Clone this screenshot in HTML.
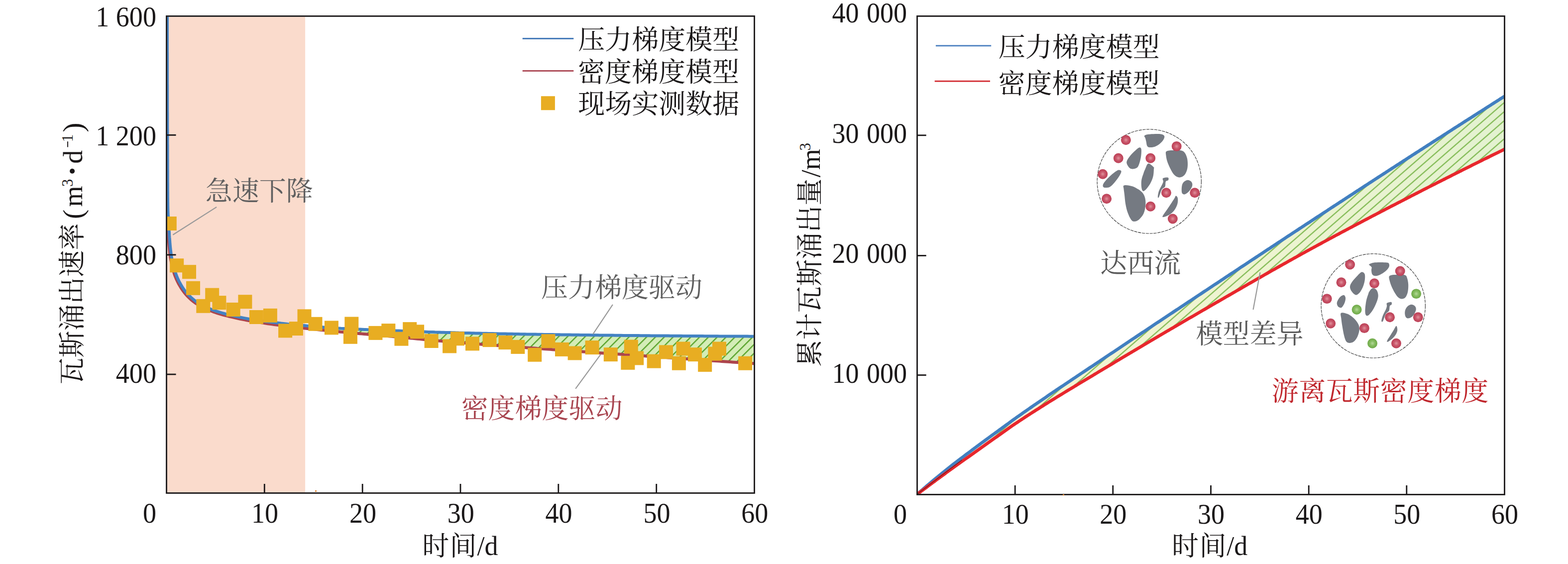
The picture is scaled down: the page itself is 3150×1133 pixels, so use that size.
<!DOCTYPE html><html><head><meta charset="utf-8"><title>chart</title><style>html,body{margin:0;padding:0;background:#fff;}svg{display:block;}</style></head><body><svg width="3150" height="1133" viewBox="0 0 3150 1133"><defs><pattern id="hatchL" patternUnits="userSpaceOnUse" width="40" height="12.551" patternTransform="rotate(-45)"><line x1="-1" y1="4.15" x2="41" y2="4.15" stroke="#59a32c" stroke-width="2.3"/></pattern><clipPath id="clipR"><rect x="1844" y="34" width="1177" height="958"/></clipPath><clipPath id="clipL"><rect x="336" y="34" width="1178" height="955"/></clipPath><pattern id="hatchR" patternUnits="userSpaceOnUse" width="40" height="13.74" patternTransform="rotate(-41)"><line x1="-1" y1="8.37" x2="41" y2="8.37" stroke="#6fb03e" stroke-width="2.0"/></pattern><linearGradient id="gradR" gradientUnits="userSpaceOnUse" x1="2000" y1="0" x2="3022" y2="0"><stop offset="0" stop-color="#f4f3d2"/><stop offset="0.5" stop-color="#eef4d0"/><stop offset="1" stop-color="#e3f2d0"/></linearGradient><radialGradient id="ballR" cx="0.5" cy="0.5" r="0.5"><stop offset="0" stop-color="#e0939d"/><stop offset="0.5" stop-color="#c9566a"/><stop offset="1" stop-color="#bb3f55"/></radialGradient><radialGradient id="ballG" cx="0.5" cy="0.5" r="0.5"><stop offset="0" stop-color="#b5d99a"/><stop offset="0.5" stop-color="#86bd60"/><stop offset="1" stop-color="#6ea848"/></radialGradient><filter id="soft" x="-5%" y="-5%" width="110%" height="110%"><feGaussianBlur stdDeviation="2.2"/></filter></defs><rect width="3150" height="1133" fill="#fff"/><rect x="336" y="34" width="277.1" height="955" fill="#fadbcc"/>
<g clip-path="url(#clipL)">
<path d="M640.0,656.6 L644.4,656.9 L648.8,657.3 L653.2,657.6 L657.6,657.9 L662.0,658.3 L666.4,658.6 L670.8,658.8 L675.2,659.1 L679.6,659.4 L683.9,659.6 L688.3,659.9 L692.7,660.1 L697.1,660.3 L701.5,660.5 L705.9,660.7 L710.3,660.9 L714.7,661.1 L719.1,661.3 L723.5,661.5 L727.9,661.7 L732.3,661.9 L736.7,662.1 L741.1,662.3 L745.5,662.4 L749.9,662.6 L754.3,662.8 L758.7,662.9 L763.0,663.1 L767.4,663.3 L771.8,663.4 L776.2,663.6 L780.6,663.8 L785.0,663.9 L789.4,664.1 L793.8,664.3 L798.2,664.4 L802.6,664.6 L807.0,664.8 L811.4,664.9 L815.8,665.1 L820.2,665.3 L824.6,665.5 L829.0,665.6 L833.4,665.8 L837.8,666.0 L842.1,666.2 L846.5,666.3 L850.9,666.5 L855.3,666.6 L859.7,666.8 L864.1,667.0 L868.5,667.1 L872.9,667.2 L877.3,667.4 L881.7,667.5 L886.1,667.6 L890.5,667.8 L894.9,667.9 L899.3,668.0 L903.7,668.1 L908.1,668.2 L912.5,668.3 L916.9,668.4 L921.2,668.6 L925.6,668.7 L930.0,668.8 L934.4,668.9 L938.8,669.0 L943.2,669.1 L947.6,669.2 L952.0,669.3 L956.4,669.4 L960.8,669.5 L965.2,669.6 L969.6,669.7 L974.0,669.8 L978.4,669.9 L982.8,670.0 L987.2,670.0 L991.6,670.1 L996.0,670.2 L1000.3,670.3 L1004.7,670.4 L1009.1,670.5 L1013.5,670.6 L1017.9,670.7 L1022.3,670.7 L1026.7,670.8 L1031.1,670.9 L1035.5,671.0 L1039.9,671.0 L1044.3,671.1 L1048.7,671.2 L1053.1,671.3 L1057.5,671.3 L1061.9,671.4 L1066.3,671.5 L1070.7,671.6 L1075.1,671.6 L1079.4,671.7 L1083.8,671.8 L1088.2,671.8 L1092.6,671.9 L1097.0,672.0 L1101.4,672.0 L1105.8,672.1 L1110.2,672.1 L1114.6,672.2 L1119.0,672.3 L1123.4,672.3 L1127.8,672.4 L1132.2,672.5 L1136.6,672.5 L1141.0,672.6 L1145.4,672.6 L1149.8,672.7 L1154.2,672.7 L1158.5,672.8 L1162.9,672.9 L1167.3,672.9 L1171.7,673.0 L1176.1,673.0 L1180.5,673.1 L1184.9,673.1 L1189.3,673.2 L1193.7,673.2 L1198.1,673.3 L1202.5,673.3 L1206.9,673.4 L1211.3,673.4 L1215.7,673.5 L1220.1,673.5 L1224.5,673.6 L1228.9,673.6 L1233.3,673.7 L1237.6,673.7 L1242.0,673.8 L1246.4,673.8 L1250.8,673.8 L1255.2,673.9 L1259.6,673.9 L1264.0,674.0 L1268.4,674.0 L1272.8,674.1 L1277.2,674.1 L1281.6,674.1 L1286.0,674.2 L1290.4,674.2 L1294.8,674.3 L1299.2,674.3 L1303.6,674.3 L1308.0,674.4 L1312.4,674.4 L1316.7,674.4 L1321.1,674.5 L1325.5,674.5 L1329.9,674.5 L1334.3,674.6 L1338.7,674.6 L1343.1,674.7 L1347.5,674.7 L1351.9,674.7 L1356.3,674.8 L1360.7,674.8 L1365.1,674.8 L1369.5,674.9 L1373.9,674.9 L1378.3,674.9 L1382.7,674.9 L1387.1,675.0 L1391.5,675.0 L1395.8,675.0 L1400.2,675.1 L1404.6,675.1 L1409.0,675.1 L1413.4,675.2 L1417.8,675.2 L1422.2,675.2 L1426.6,675.2 L1431.0,675.3 L1435.4,675.3 L1439.8,675.3 L1444.2,675.4 L1448.6,675.4 L1453.0,675.4 L1457.4,675.4 L1461.8,675.5 L1466.2,675.5 L1470.6,675.5 L1474.9,675.5 L1479.3,675.5 L1483.7,675.6 L1488.1,675.6 L1492.5,675.6 L1496.9,675.6 L1501.3,675.6 L1505.7,675.7 L1510.1,675.7 L1514.5,675.7 L1514.5,730.4 L1510.1,730.1 L1505.7,729.8 L1501.3,729.5 L1496.9,729.2 L1492.5,728.9 L1488.1,728.6 L1483.7,728.3 L1479.3,728.0 L1474.9,727.7 L1470.6,727.4 L1466.2,727.1 L1461.8,726.8 L1457.4,726.5 L1453.0,726.1 L1448.6,725.8 L1444.2,725.5 L1439.8,725.2 L1435.4,724.9 L1431.0,724.6 L1426.6,724.3 L1422.2,724.0 L1417.8,723.7 L1413.4,723.4 L1409.0,723.1 L1404.6,722.8 L1400.2,722.5 L1395.8,722.2 L1391.5,721.9 L1387.1,721.6 L1382.7,721.3 L1378.3,721.0 L1373.9,720.7 L1369.5,720.3 L1365.1,720.0 L1360.7,719.7 L1356.3,719.4 L1351.9,719.1 L1347.5,718.8 L1343.1,718.5 L1338.7,718.2 L1334.3,717.9 L1329.9,717.6 L1325.5,717.3 L1321.1,717.0 L1316.7,716.7 L1312.4,716.4 L1308.0,716.1 L1303.6,715.7 L1299.2,715.4 L1294.8,715.1 L1290.4,714.8 L1286.0,714.5 L1281.6,714.2 L1277.2,713.9 L1272.8,713.6 L1268.4,713.3 L1264.0,713.0 L1259.6,712.7 L1255.2,712.4 L1250.8,712.1 L1246.4,711.8 L1242.0,711.5 L1237.6,711.2 L1233.3,710.9 L1228.9,710.6 L1224.5,710.2 L1220.1,709.9 L1215.7,709.6 L1211.3,709.3 L1206.9,709.0 L1202.5,708.7 L1198.1,708.4 L1193.7,708.1 L1189.3,707.8 L1184.9,707.5 L1180.5,707.2 L1176.1,706.9 L1171.7,706.6 L1167.3,706.3 L1162.9,706.0 L1158.5,705.6 L1154.2,705.3 L1149.8,705.0 L1145.4,704.7 L1141.0,704.4 L1136.6,704.1 L1132.2,703.8 L1127.8,703.5 L1123.4,703.1 L1119.0,702.8 L1114.6,702.5 L1110.2,702.2 L1105.8,701.9 L1101.4,701.6 L1097.0,701.2 L1092.6,700.9 L1088.2,700.6 L1083.8,700.3 L1079.4,700.0 L1075.1,699.6 L1070.7,699.3 L1066.3,699.0 L1061.9,698.7 L1057.5,698.3 L1053.1,698.0 L1048.7,697.7 L1044.3,697.4 L1039.9,697.1 L1035.5,696.7 L1031.1,696.4 L1026.7,696.1 L1022.3,695.8 L1017.9,695.4 L1013.5,695.1 L1009.1,694.8 L1004.7,694.5 L1000.3,694.1 L996.0,693.8 L991.6,693.5 L987.2,693.1 L982.8,692.8 L978.4,692.5 L974.0,692.2 L969.6,691.8 L965.2,691.5 L960.8,691.1 L956.4,690.8 L952.0,690.5 L947.6,690.1 L943.2,689.8 L938.8,689.4 L934.4,689.1 L930.0,688.7 L925.6,688.4 L921.2,688.0 L916.9,687.7 L912.5,687.3 L908.1,686.9 L903.7,686.6 L899.3,686.2 L894.9,685.8 L890.5,685.5 L886.1,685.1 L881.7,684.7 L877.3,684.3 L872.9,683.9 L868.5,683.5 L864.1,683.1 L859.7,682.7 L855.3,682.3 L850.9,681.9 L846.5,681.5 L842.1,681.0 L837.8,680.6 L833.4,680.2 L829.0,679.7 L824.6,679.3 L820.2,678.9 L815.8,678.5 L811.4,678.1 L807.0,677.6 L802.6,677.2 L798.2,676.8 L793.8,676.4 L789.4,676.0 L785.0,675.6 L780.6,675.3 L776.2,674.9 L771.8,674.5 L767.4,674.1 L763.0,673.7 L758.7,673.3 L754.3,673.0 L749.9,672.6 L745.5,672.2 L741.1,671.8 L736.7,671.4 L732.3,671.0 L727.9,670.7 L723.5,670.3 L719.1,669.9 L714.7,669.5 L710.3,669.1 L705.9,668.7 L701.5,668.3 L697.1,667.9 L692.7,667.5 L688.3,667.1 L683.9,666.7 L679.6,666.3 L675.2,665.8 L670.8,665.4 L666.4,665.0 L662.0,664.5 L657.6,664.1 L653.2,663.7 L648.8,663.2 L644.4,662.8 L640.0,662.3Z" fill="#d4edb7"/>
<path d="M640.0,656.6 L644.4,656.9 L648.8,657.3 L653.2,657.6 L657.6,657.9 L662.0,658.3 L666.4,658.6 L670.8,658.8 L675.2,659.1 L679.6,659.4 L683.9,659.6 L688.3,659.9 L692.7,660.1 L697.1,660.3 L701.5,660.5 L705.9,660.7 L710.3,660.9 L714.7,661.1 L719.1,661.3 L723.5,661.5 L727.9,661.7 L732.3,661.9 L736.7,662.1 L741.1,662.3 L745.5,662.4 L749.9,662.6 L754.3,662.8 L758.7,662.9 L763.0,663.1 L767.4,663.3 L771.8,663.4 L776.2,663.6 L780.6,663.8 L785.0,663.9 L789.4,664.1 L793.8,664.3 L798.2,664.4 L802.6,664.6 L807.0,664.8 L811.4,664.9 L815.8,665.1 L820.2,665.3 L824.6,665.5 L829.0,665.6 L833.4,665.8 L837.8,666.0 L842.1,666.2 L846.5,666.3 L850.9,666.5 L855.3,666.6 L859.7,666.8 L864.1,667.0 L868.5,667.1 L872.9,667.2 L877.3,667.4 L881.7,667.5 L886.1,667.6 L890.5,667.8 L894.9,667.9 L899.3,668.0 L903.7,668.1 L908.1,668.2 L912.5,668.3 L916.9,668.4 L921.2,668.6 L925.6,668.7 L930.0,668.8 L934.4,668.9 L938.8,669.0 L943.2,669.1 L947.6,669.2 L952.0,669.3 L956.4,669.4 L960.8,669.5 L965.2,669.6 L969.6,669.7 L974.0,669.8 L978.4,669.9 L982.8,670.0 L987.2,670.0 L991.6,670.1 L996.0,670.2 L1000.3,670.3 L1004.7,670.4 L1009.1,670.5 L1013.5,670.6 L1017.9,670.7 L1022.3,670.7 L1026.7,670.8 L1031.1,670.9 L1035.5,671.0 L1039.9,671.0 L1044.3,671.1 L1048.7,671.2 L1053.1,671.3 L1057.5,671.3 L1061.9,671.4 L1066.3,671.5 L1070.7,671.6 L1075.1,671.6 L1079.4,671.7 L1083.8,671.8 L1088.2,671.8 L1092.6,671.9 L1097.0,672.0 L1101.4,672.0 L1105.8,672.1 L1110.2,672.1 L1114.6,672.2 L1119.0,672.3 L1123.4,672.3 L1127.8,672.4 L1132.2,672.5 L1136.6,672.5 L1141.0,672.6 L1145.4,672.6 L1149.8,672.7 L1154.2,672.7 L1158.5,672.8 L1162.9,672.9 L1167.3,672.9 L1171.7,673.0 L1176.1,673.0 L1180.5,673.1 L1184.9,673.1 L1189.3,673.2 L1193.7,673.2 L1198.1,673.3 L1202.5,673.3 L1206.9,673.4 L1211.3,673.4 L1215.7,673.5 L1220.1,673.5 L1224.5,673.6 L1228.9,673.6 L1233.3,673.7 L1237.6,673.7 L1242.0,673.8 L1246.4,673.8 L1250.8,673.8 L1255.2,673.9 L1259.6,673.9 L1264.0,674.0 L1268.4,674.0 L1272.8,674.1 L1277.2,674.1 L1281.6,674.1 L1286.0,674.2 L1290.4,674.2 L1294.8,674.3 L1299.2,674.3 L1303.6,674.3 L1308.0,674.4 L1312.4,674.4 L1316.7,674.4 L1321.1,674.5 L1325.5,674.5 L1329.9,674.5 L1334.3,674.6 L1338.7,674.6 L1343.1,674.7 L1347.5,674.7 L1351.9,674.7 L1356.3,674.8 L1360.7,674.8 L1365.1,674.8 L1369.5,674.9 L1373.9,674.9 L1378.3,674.9 L1382.7,674.9 L1387.1,675.0 L1391.5,675.0 L1395.8,675.0 L1400.2,675.1 L1404.6,675.1 L1409.0,675.1 L1413.4,675.2 L1417.8,675.2 L1422.2,675.2 L1426.6,675.2 L1431.0,675.3 L1435.4,675.3 L1439.8,675.3 L1444.2,675.4 L1448.6,675.4 L1453.0,675.4 L1457.4,675.4 L1461.8,675.5 L1466.2,675.5 L1470.6,675.5 L1474.9,675.5 L1479.3,675.5 L1483.7,675.6 L1488.1,675.6 L1492.5,675.6 L1496.9,675.6 L1501.3,675.6 L1505.7,675.7 L1510.1,675.7 L1514.5,675.7 L1514.5,730.4 L1510.1,730.1 L1505.7,729.8 L1501.3,729.5 L1496.9,729.2 L1492.5,728.9 L1488.1,728.6 L1483.7,728.3 L1479.3,728.0 L1474.9,727.7 L1470.6,727.4 L1466.2,727.1 L1461.8,726.8 L1457.4,726.5 L1453.0,726.1 L1448.6,725.8 L1444.2,725.5 L1439.8,725.2 L1435.4,724.9 L1431.0,724.6 L1426.6,724.3 L1422.2,724.0 L1417.8,723.7 L1413.4,723.4 L1409.0,723.1 L1404.6,722.8 L1400.2,722.5 L1395.8,722.2 L1391.5,721.9 L1387.1,721.6 L1382.7,721.3 L1378.3,721.0 L1373.9,720.7 L1369.5,720.3 L1365.1,720.0 L1360.7,719.7 L1356.3,719.4 L1351.9,719.1 L1347.5,718.8 L1343.1,718.5 L1338.7,718.2 L1334.3,717.9 L1329.9,717.6 L1325.5,717.3 L1321.1,717.0 L1316.7,716.7 L1312.4,716.4 L1308.0,716.1 L1303.6,715.7 L1299.2,715.4 L1294.8,715.1 L1290.4,714.8 L1286.0,714.5 L1281.6,714.2 L1277.2,713.9 L1272.8,713.6 L1268.4,713.3 L1264.0,713.0 L1259.6,712.7 L1255.2,712.4 L1250.8,712.1 L1246.4,711.8 L1242.0,711.5 L1237.6,711.2 L1233.3,710.9 L1228.9,710.6 L1224.5,710.2 L1220.1,709.9 L1215.7,709.6 L1211.3,709.3 L1206.9,709.0 L1202.5,708.7 L1198.1,708.4 L1193.7,708.1 L1189.3,707.8 L1184.9,707.5 L1180.5,707.2 L1176.1,706.9 L1171.7,706.6 L1167.3,706.3 L1162.9,706.0 L1158.5,705.6 L1154.2,705.3 L1149.8,705.0 L1145.4,704.7 L1141.0,704.4 L1136.6,704.1 L1132.2,703.8 L1127.8,703.5 L1123.4,703.1 L1119.0,702.8 L1114.6,702.5 L1110.2,702.2 L1105.8,701.9 L1101.4,701.6 L1097.0,701.2 L1092.6,700.9 L1088.2,700.6 L1083.8,700.3 L1079.4,700.0 L1075.1,699.6 L1070.7,699.3 L1066.3,699.0 L1061.9,698.7 L1057.5,698.3 L1053.1,698.0 L1048.7,697.7 L1044.3,697.4 L1039.9,697.1 L1035.5,696.7 L1031.1,696.4 L1026.7,696.1 L1022.3,695.8 L1017.9,695.4 L1013.5,695.1 L1009.1,694.8 L1004.7,694.5 L1000.3,694.1 L996.0,693.8 L991.6,693.5 L987.2,693.1 L982.8,692.8 L978.4,692.5 L974.0,692.2 L969.6,691.8 L965.2,691.5 L960.8,691.1 L956.4,690.8 L952.0,690.5 L947.6,690.1 L943.2,689.8 L938.8,689.4 L934.4,689.1 L930.0,688.7 L925.6,688.4 L921.2,688.0 L916.9,687.7 L912.5,687.3 L908.1,686.9 L903.7,686.6 L899.3,686.2 L894.9,685.8 L890.5,685.5 L886.1,685.1 L881.7,684.7 L877.3,684.3 L872.9,683.9 L868.5,683.5 L864.1,683.1 L859.7,682.7 L855.3,682.3 L850.9,681.9 L846.5,681.5 L842.1,681.0 L837.8,680.6 L833.4,680.2 L829.0,679.7 L824.6,679.3 L820.2,678.9 L815.8,678.5 L811.4,678.1 L807.0,677.6 L802.6,677.2 L798.2,676.8 L793.8,676.4 L789.4,676.0 L785.0,675.6 L780.6,675.3 L776.2,674.9 L771.8,674.5 L767.4,674.1 L763.0,673.7 L758.7,673.3 L754.3,673.0 L749.9,672.6 L745.5,672.2 L741.1,671.8 L736.7,671.4 L732.3,671.0 L727.9,670.7 L723.5,670.3 L719.1,669.9 L714.7,669.5 L710.3,669.1 L705.9,668.7 L701.5,668.3 L697.1,667.9 L692.7,667.5 L688.3,667.1 L683.9,666.7 L679.6,666.3 L675.2,665.8 L670.8,665.4 L666.4,665.0 L662.0,664.5 L657.6,664.1 L653.2,663.7 L648.8,663.2 L644.4,662.8 L640.0,662.3Z" fill="url(#hatchL)"/>
<path d="M334.5,34.0 L334.5,38.3 L334.5,42.6 L334.5,47.0 L334.5,51.3 L334.5,55.6 L334.5,59.9 L334.5,64.2 L334.5,68.5 L334.5,72.9 L334.5,77.2 L334.5,81.5 L334.5,85.8 L334.5,90.1 L334.5,94.4 L334.5,98.8 L334.5,103.1 L334.5,107.4 L334.5,111.7 L334.5,116.0 L334.5,120.4 L334.5,124.7 L334.5,129.0 L334.5,133.3 L334.5,137.6 L334.5,141.9 L334.6,146.3 L334.6,150.6 L334.6,154.9 L334.6,159.2 L334.6,163.5 L334.6,167.8 L334.6,172.2 L334.6,176.5 L334.6,180.8 L334.6,185.1 L334.6,189.4 L334.6,193.8 L334.6,198.1 L334.6,202.4 L334.6,206.7 L334.6,211.0 L334.6,215.3 L334.6,219.7 L334.6,224.0 L334.6,228.3 L334.6,232.6 L334.7,236.9 L334.7,241.2 L334.7,245.6 L334.7,249.9 L334.7,254.2 L334.7,258.5 L334.7,262.8 L334.7,267.1 L334.7,271.5 L334.7,275.8 L334.8,280.1 L334.8,284.4 L334.8,288.7 L334.8,293.1 L334.8,297.4 L334.8,301.7 L334.8,306.0 L334.8,310.3 L334.9,314.6 L334.9,319.0 L334.9,323.3 L334.9,327.6 L334.9,331.9 L334.9,336.2 L334.9,340.5 L334.9,344.9 L335.0,349.2 L335.0,353.5 L335.0,357.8 L335.0,362.1 L335.0,366.5 L335.0,370.8 L335.1,375.1 L335.1,379.4 L335.1,383.7 L335.1,388.0 L335.1,392.4 L335.2,396.7 L335.2,401.0 L335.2,405.3 L335.3,409.6 L335.3,413.9 L335.4,418.3 L335.5,422.6 L335.6,426.9 L335.8,431.2 L336.0,435.5 L336.2,439.8 L336.5,444.1 L336.7,448.5 L336.9,452.8 L337.2,457.1 L337.4,461.4 L337.7,465.7 L338.0,470.0 L338.2,474.3 L338.5,478.7 L338.8,483.0 L339.1,487.3 L339.4,491.6 L339.8,495.9 L340.2,500.2 L340.7,504.5 L341.1,508.7 L341.7,513.0 L342.3,517.3 L343.1,521.6 L343.9,525.9 L344.8,530.1 L345.8,534.4 L346.9,538.6 L348.0,542.7 L349.2,546.8 L350.4,550.9 L351.9,554.9 L353.5,559.0 L355.3,563.0 L357.2,566.9 L359.2,570.8 L361.4,574.6 L363.6,578.3 L366.0,581.8 L368.4,585.2 L371.0,588.6 L373.9,592.0 L376.8,595.2 L380.0,598.4 L383.2,601.4 L386.5,604.2 L389.9,606.9 L393.3,609.3 L396.8,611.6 L400.5,613.8 L404.3,615.9 L408.2,617.9 L412.1,619.8 L416.2,621.5 L420.2,623.2 L424.2,624.8 L428.2,626.3 L432.3,627.7 L436.4,629.1 L440.5,630.4 L444.7,631.6 L448.9,632.8 L453.0,633.9 L457.2,634.9 L461.4,636.0 L465.6,636.9 L469.8,637.9 L474.0,638.9 L478.2,639.8 L482.5,640.7 L486.7,641.5 L491.0,642.4 L495.2,643.2 L499.5,644.0 L503.7,644.7 L508.0,645.5 L512.2,646.2 L516.5,646.9 L520.7,647.6 L525.0,648.3 L529.3,648.9 L533.5,649.6 L537.8,650.2 L542.1,650.8 L546.3,651.4 L550.6,652.0 L554.9,652.5 L559.2,653.1 L563.5,653.6 L567.8,654.2 L572.1,654.7 L576.3,655.2 L580.6,655.7 L584.9,656.2 L589.2,656.7 L593.5,657.2 L597.8,657.7 L602.1,658.2 L606.4,658.7 L610.7,659.2 L614.9,659.7 L619.2,660.2 L623.5,660.6 L627.8,661.1 L632.1,661.5 L636.4,662.0 L640.7,662.4 L645.0,662.9 L649.3,663.3 L653.6,663.7 L657.9,664.1 L662.2,664.6 L666.5,665.0 L670.8,665.4 L675.1,665.8 L679.4,666.2 L683.7,666.7 L688.0,667.1 L692.3,667.5 L696.6,667.9 L700.9,668.3 L705.2,668.6 L709.5,669.0 L713.8,669.4 L718.1,669.8 L722.4,670.2 L726.7,670.6 L731.0,670.9 L735.3,671.3 L739.6,671.7 L743.9,672.1 L748.2,672.4 L752.5,672.8 L756.8,673.2 L761.1,673.5 L765.4,673.9 L769.7,674.3 L774.0,674.7 L778.3,675.1 L782.6,675.4 L786.9,675.8 L791.2,676.2 L795.5,676.6 L799.8,677.0 L804.1,677.4 L808.4,677.8 L812.7,678.2 L817.0,678.6 L821.3,679.0 L825.6,679.4 L829.9,679.8 L834.2,680.3 L838.5,680.7 L842.8,681.1 L847.1,681.5 L851.4,681.9 L855.7,682.3 L860.0,682.7 L864.3,683.1 L868.6,683.5 L872.9,683.9 L877.2,684.3 L881.5,684.7 L885.8,685.1 L890.1,685.4 L894.4,685.8 L898.7,686.2 L903.0,686.5 L907.3,686.9 L911.6,687.2 L915.9,687.6 L920.2,687.9 L924.5,688.3 L928.8,688.6 L933.1,689.0 L937.4,689.3 L941.7,689.7 L946.0,690.0 L950.3,690.3 L954.6,690.7 L958.9,691.0 L963.2,691.3 L967.5,691.7 L971.8,692.0 L976.1,692.3 L980.5,692.6 L984.8,693.0 L989.1,693.3 L993.4,693.6 L997.7,693.9 L1002.0,694.3 L1006.3,694.6 L1010.6,694.9 L1014.9,695.2 L1019.2,695.5 L1023.5,695.9 L1027.8,696.2 L1032.1,696.5 L1036.4,696.8 L1040.7,697.1 L1045.0,697.4 L1049.3,697.8 L1053.7,698.1 L1058.0,698.4 L1062.3,698.7 L1066.6,699.0 L1070.9,699.3 L1075.2,699.6 L1079.5,700.0 L1083.8,700.3 L1088.1,700.6 L1092.4,700.9 L1096.7,701.2 L1101.0,701.5 L1105.3,701.8 L1109.6,702.2 L1113.9,702.5 L1118.2,702.8 L1122.5,703.1 L1126.9,703.4 L1131.2,703.7 L1135.5,704.0 L1139.8,704.3 L1144.1,704.6 L1148.4,704.9 L1152.7,705.2 L1157.0,705.5 L1161.3,705.8 L1165.6,706.1 L1169.9,706.4 L1174.2,706.7 L1178.5,707.0 L1182.8,707.4 L1187.2,707.7 L1191.5,708.0 L1195.8,708.3 L1200.1,708.6 L1204.4,708.9 L1208.7,709.2 L1213.0,709.5 L1217.3,709.8 L1221.6,710.1 L1225.9,710.3 L1230.2,710.6 L1234.5,710.9 L1238.8,711.2 L1243.1,711.5 L1247.5,711.8 L1251.8,712.1 L1256.1,712.4 L1260.4,712.7 L1264.7,713.0 L1269.0,713.3 L1273.3,713.6 L1277.6,713.9 L1281.9,714.2 L1286.2,714.5 L1290.5,714.8 L1294.8,715.1 L1299.1,715.4 L1303.4,715.7 L1307.8,716.0 L1312.1,716.3 L1316.4,716.6 L1320.7,716.9 L1325.0,717.2 L1329.3,717.5 L1333.6,717.8 L1337.9,718.1 L1342.2,718.4 L1346.5,718.7 L1350.8,719.0 L1355.1,719.3 L1359.4,719.6 L1363.7,720.0 L1368.1,720.3 L1372.4,720.5 L1376.7,720.8 L1381.0,721.1 L1385.3,721.4 L1389.6,721.7 L1393.9,722.0 L1398.2,722.3 L1402.5,722.6 L1406.8,722.9 L1411.1,723.2 L1415.4,723.5 L1419.7,723.8 L1424.0,724.1 L1428.4,724.4 L1432.7,724.7 L1437.0,725.0 L1441.3,725.3 L1445.6,725.6 L1449.9,725.9 L1454.2,726.2 L1458.5,726.5 L1462.8,726.8 L1467.1,727.1 L1471.4,727.4 L1475.7,727.7 L1480.0,728.0 L1484.3,728.3 L1488.7,728.6 L1493.0,728.9 L1497.3,729.2 L1501.6,729.5 L1505.9,729.8 L1510.2,730.1 L1514.5,730.4" fill="none" stroke="#ad444c" stroke-width="6" stroke-linejoin="round"/>
<path d="M336.0,34.0 L336.0,38.3 L336.0,42.6 L336.0,46.9 L336.0,51.2 L336.0,55.5 L336.0,59.8 L336.0,64.1 L336.0,68.4 L336.0,72.7 L336.0,77.0 L336.0,81.3 L336.0,85.6 L336.0,89.9 L336.0,94.2 L336.0,98.5 L336.0,102.8 L336.1,107.1 L336.1,111.4 L336.1,115.7 L336.1,120.0 L336.1,124.3 L336.1,128.6 L336.1,132.9 L336.1,137.2 L336.1,141.5 L336.1,145.8 L336.1,150.1 L336.1,154.4 L336.1,158.7 L336.1,163.0 L336.1,167.3 L336.2,171.6 L336.2,175.9 L336.2,180.2 L336.2,184.5 L336.2,188.8 L336.2,193.1 L336.2,197.4 L336.2,201.7 L336.2,206.0 L336.2,210.3 L336.2,214.6 L336.2,218.9 L336.2,223.2 L336.3,227.5 L336.3,231.8 L336.3,236.1 L336.3,240.4 L336.3,244.7 L336.3,249.0 L336.3,253.3 L336.3,257.5 L336.4,261.8 L336.4,266.1 L336.4,270.4 L336.4,274.7 L336.4,279.0 L336.4,283.3 L336.4,287.6 L336.5,291.9 L336.5,296.2 L336.5,300.5 L336.5,304.8 L336.5,309.1 L336.5,313.4 L336.5,317.7 L336.6,322.0 L336.6,326.3 L336.6,330.6 L336.6,334.9 L336.6,339.2 L336.7,343.5 L336.7,347.8 L336.7,352.1 L336.7,356.4 L336.7,360.7 L336.7,365.0 L336.8,369.3 L336.8,373.6 L336.8,377.9 L336.8,382.2 L336.9,386.5 L336.9,390.8 L336.9,395.1 L337.0,399.4 L337.0,403.7 L337.1,408.0 L337.1,412.3 L337.2,416.6 L337.3,420.9 L337.4,425.2 L337.6,429.5 L337.8,433.8 L338.1,438.1 L338.3,442.4 L338.6,446.7 L338.9,451.0 L339.1,455.3 L339.4,459.5 L339.7,463.8 L340.0,468.1 L340.2,472.4 L340.5,476.7 L340.9,481.0 L341.2,485.3 L341.5,489.6 L341.9,493.9 L342.3,498.2 L342.8,502.4 L343.3,506.7 L343.8,510.9 L344.5,515.2 L345.2,519.4 L346.0,523.7 L347.0,527.9 L348.0,532.1 L349.1,536.3 L350.3,540.5 L351.5,544.6 L352.8,548.6 L354.2,552.6 L355.8,556.6 L357.5,560.6 L359.4,564.6 L361.5,568.4 L363.6,572.2 L365.8,575.9 L368.1,579.4 L370.5,582.8 L373.2,586.2 L376.0,589.5 L379.0,592.7 L382.1,595.9 L385.3,598.9 L388.6,601.7 L392.0,604.3 L395.4,606.8 L398.9,609.0 L402.5,611.2 L406.3,613.3 L410.2,615.3 L414.2,617.2 L418.2,618.9 L422.2,620.6 L426.2,622.2 L430.2,623.7 L434.2,625.1 L438.3,626.4 L442.4,627.7 L446.6,628.9 L450.7,630.0 L454.9,631.1 L459.1,632.1 L463.2,633.1 L467.4,634.1 L471.6,635.1 L475.8,636.0 L480.0,636.9 L484.2,637.8 L488.5,638.6 L492.7,639.4 L496.9,640.2 L501.2,641.0 L505.4,641.7 L509.6,642.4 L513.9,643.1 L518.1,643.7 L522.4,644.3 L526.6,644.9 L530.9,645.5 L535.1,646.1 L539.4,646.6 L543.7,647.1 L547.9,647.6 L552.2,648.1 L556.5,648.6 L560.8,649.1 L565.0,649.6 L569.3,650.0 L573.6,650.4 L577.9,650.9 L582.2,651.3 L586.5,651.7 L590.7,652.1 L595.0,652.5 L599.3,652.9 L603.6,653.3 L607.9,653.7 L612.1,654.1 L616.4,654.5 L620.7,654.9 L625.0,655.3 L629.3,655.7 L633.5,656.0 L637.8,656.4 L642.1,656.7 L646.4,657.1 L650.7,657.4 L655.0,657.7 L659.3,658.1 L663.6,658.4 L667.8,658.7 L672.1,658.9 L676.4,659.2 L680.7,659.4 L685.0,659.7 L689.3,659.9 L693.6,660.1 L697.9,660.4 L702.2,660.6 L706.5,660.8 L710.8,661.0 L715.1,661.2 L719.3,661.4 L723.6,661.5 L727.9,661.7 L732.2,661.9 L736.5,662.1 L740.8,662.2 L745.1,662.4 L749.4,662.6 L753.7,662.7 L758.0,662.9 L762.3,663.1 L766.6,663.2 L770.9,663.4 L775.2,663.6 L779.5,663.7 L783.8,663.9 L788.1,664.0 L792.4,664.2 L796.7,664.4 L801.0,664.5 L805.3,664.7 L809.6,664.9 L813.9,665.0 L818.2,665.2 L822.5,665.4 L826.8,665.6 L831.1,665.7 L835.3,665.9 L839.6,666.1 L843.9,666.2 L848.2,666.4 L852.5,666.5 L856.8,666.7 L861.1,666.9 L865.4,667.0 L869.7,667.1 L874.0,667.3 L878.3,667.4 L882.6,667.5 L886.9,667.7 L891.2,667.8 L895.5,667.9 L899.8,668.0 L904.1,668.1 L908.4,668.2 L912.7,668.3 L917.0,668.4 L921.3,668.6 L925.6,668.7 L929.9,668.8 L934.2,668.9 L938.5,669.0 L942.8,669.1 L947.1,669.2 L951.4,669.3 L955.7,669.4 L960.0,669.5 L964.3,669.6 L968.6,669.7 L972.9,669.7 L977.2,669.8 L981.5,669.9 L985.8,670.0 L990.1,670.1 L994.3,670.2 L998.6,670.3 L1002.9,670.4 L1007.2,670.4 L1011.5,670.5 L1015.8,670.6 L1020.1,670.7 L1024.4,670.8 L1028.7,670.8 L1033.0,670.9 L1037.3,671.0 L1041.6,671.1 L1045.9,671.2 L1050.2,671.2 L1054.5,671.3 L1058.8,671.4 L1063.1,671.4 L1067.4,671.5 L1071.7,671.6 L1076.0,671.6 L1080.3,671.7 L1084.6,671.8 L1088.9,671.8 L1093.2,671.9 L1097.5,672.0 L1101.8,672.0 L1106.1,672.1 L1110.4,672.1 L1114.7,672.2 L1119.0,672.3 L1123.3,672.3 L1127.6,672.4 L1131.9,672.4 L1136.2,672.5 L1140.5,672.6 L1144.8,672.6 L1149.1,672.7 L1153.4,672.7 L1157.7,672.8 L1162.0,672.8 L1166.3,672.9 L1170.6,673.0 L1174.9,673.0 L1179.2,673.1 L1183.5,673.1 L1187.8,673.2 L1192.1,673.2 L1196.4,673.3 L1200.7,673.3 L1205.0,673.4 L1209.3,673.4 L1213.6,673.5 L1217.9,673.5 L1222.2,673.6 L1226.5,673.6 L1230.8,673.6 L1235.1,673.7 L1239.4,673.7 L1243.7,673.8 L1248.0,673.8 L1252.3,673.9 L1256.6,673.9 L1260.9,673.9 L1265.2,674.0 L1269.5,674.0 L1273.8,674.1 L1278.1,674.1 L1282.4,674.1 L1286.7,674.2 L1291.0,674.2 L1295.3,674.3 L1299.6,674.3 L1303.9,674.3 L1308.2,674.4 L1312.4,674.4 L1316.7,674.4 L1321.0,674.5 L1325.3,674.5 L1329.6,674.5 L1333.9,674.6 L1338.2,674.6 L1342.5,674.6 L1346.8,674.7 L1351.1,674.7 L1355.4,674.7 L1359.7,674.8 L1364.0,674.8 L1368.3,674.8 L1372.6,674.9 L1376.9,674.9 L1381.2,674.9 L1385.5,675.0 L1389.8,675.0 L1394.1,675.0 L1398.4,675.1 L1402.7,675.1 L1407.0,675.1 L1411.3,675.1 L1415.6,675.2 L1419.9,675.2 L1424.2,675.2 L1428.5,675.3 L1432.8,675.3 L1437.1,675.3 L1441.4,675.3 L1445.7,675.4 L1450.0,675.4 L1454.3,675.4 L1458.6,675.4 L1462.9,675.5 L1467.2,675.5 L1471.5,675.5 L1475.8,675.5 L1480.1,675.5 L1484.4,675.6 L1488.7,675.6 L1493.0,675.6 L1497.3,675.6 L1501.6,675.6 L1505.9,675.7 L1510.2,675.7 L1514.5,675.7" fill="none" stroke="#4382c3" stroke-width="6" stroke-linejoin="round"/>
</g>
<g stroke="#9a9a9a" stroke-width="2.2" stroke-linecap="butt">
<line x1="435.1" y1="415.9" x2="347.3" y2="471.7"/>
<line x1="1230.9" y1="611.8" x2="1191.3" y2="671.2"/>
<line x1="1206.6" y1="712.1" x2="1156.2" y2="780.9"/>
</g>
<g fill="#e8ad22" clip-path="url(#clipL)">
<rect x="326.8" y="435.0" width="28" height="28"/>
<rect x="341.2" y="519.3" width="28" height="28"/>
<rect x="366.0" y="532.2" width="28" height="28"/>
<rect x="374.0" y="564.8" width="28" height="28"/>
<rect x="394.3" y="600.8" width="28" height="28"/>
<rect x="412.2" y="578.6" width="28" height="28"/>
<rect x="426.4" y="594.1" width="28" height="28"/>
<rect x="454.7" y="607.9" width="28" height="28"/>
<rect x="478.4" y="592.2" width="28" height="28"/>
<rect x="500.9" y="623.0" width="28" height="28"/>
<rect x="528.9" y="619.8" width="28" height="28"/>
<rect x="559.1" y="650.4" width="28" height="28"/>
<rect x="580.9" y="646.1" width="28" height="28"/>
<rect x="597.5" y="621.3" width="28" height="28"/>
<rect x="619.5" y="636.8" width="28" height="28"/>
<rect x="651.9" y="644.4" width="28" height="28"/>
<rect x="692.3" y="636.5" width="28" height="28"/>
<rect x="689.9" y="662.8" width="28" height="28"/>
<rect x="740.4" y="654.9" width="28" height="28"/>
<rect x="766.3" y="650.1" width="28" height="28"/>
<rect x="792.4" y="666.7" width="28" height="28"/>
<rect x="809.2" y="647.1" width="28" height="28"/>
<rect x="824.1" y="652.3" width="28" height="28"/>
<rect x="852.6" y="671.0" width="28" height="28"/>
<rect x="889.1" y="681.4" width="28" height="28"/>
<rect x="905.0" y="666.3" width="28" height="28"/>
<rect x="935.0" y="676.4" width="28" height="28"/>
<rect x="969.5" y="669.1" width="28" height="28"/>
<rect x="1001.5" y="674.1" width="28" height="28"/>
<rect x="1026.3" y="682.9" width="28" height="28"/>
<rect x="1060.2" y="698.7" width="28" height="28"/>
<rect x="1087.4" y="671.2" width="28" height="28"/>
<rect x="1115.0" y="687.9" width="28" height="28"/>
<rect x="1140.6" y="695.4" width="28" height="28"/>
<rect x="1175.6" y="684.1" width="28" height="28"/>
<rect x="1212.8" y="698.1" width="28" height="28"/>
<rect x="1253.8" y="682.5" width="28" height="28"/>
<rect x="1265.2" y="705.4" width="28" height="28"/>
<rect x="1247.4" y="714.8" width="28" height="28"/>
<rect x="1299.7" y="711.6" width="28" height="28"/>
<rect x="1324.0" y="693.3" width="28" height="28"/>
<rect x="1349.9" y="715.7" width="28" height="28"/>
<rect x="1358.5" y="686.5" width="28" height="28"/>
<rect x="1382.0" y="698.1" width="28" height="28"/>
<rect x="1402.2" y="718.9" width="28" height="28"/>
<rect x="1422.4" y="696.5" width="28" height="28"/>
<rect x="1431.0" y="686.5" width="28" height="28"/>
<rect x="1483.1" y="715.7" width="28" height="28"/>
</g>
<g stroke="#1a1718" stroke-width="2.8" fill="none">
<rect x="334.5" y="32.4" width="1181.0" height="958.1"/>
<line x1="334.5" y1="752" x2="353.5" y2="752"/>
<line x1="334.5" y1="511.9" x2="353.5" y2="511.9"/>
<line x1="334.5" y1="271.3" x2="353.5" y2="271.3"/>
<line x1="531.3" y1="990.5" x2="531.3" y2="972.0"/>
<line x1="728.2" y1="990.5" x2="728.2" y2="972.0"/>
<line x1="925.0" y1="990.5" x2="925.0" y2="972.0"/>
<line x1="1121.8" y1="990.5" x2="1121.8" y2="972.0"/>
<line x1="1318.7" y1="990.5" x2="1318.7" y2="972.0"/>
</g>
<g fill="#1a1718" font-size="54" font-family="Liberation Serif, serif">
<text transform="translate(313.9,52.6) scale(0.962,1)" font-size="56.2" text-anchor="end">1 600</text>
<text transform="translate(313.9,291.5) scale(0.962,1)" font-size="56.2" text-anchor="end">1 200</text>
<text transform="translate(313.9,530.8) scale(0.962,1)" font-size="56.2" text-anchor="end">800</text>
<text transform="translate(313.9,768.5) scale(0.962,1)" font-size="56.2" text-anchor="end">400</text>
<text transform="translate(313.9,1050) scale(0.962,1)" font-size="56.2" text-anchor="end">0</text>
<text transform="translate(532.1,1049.6) scale(0.962,1)" font-size="56.2" text-anchor="middle">10</text>
<text transform="translate(729.0,1049.6) scale(0.962,1)" font-size="56.2" text-anchor="middle">20</text>
<text transform="translate(925.8,1049.6) scale(0.962,1)" font-size="56.2" text-anchor="middle">30</text>
<text transform="translate(1122.6,1049.6) scale(0.962,1)" font-size="56.2" text-anchor="middle">40</text>
<text transform="translate(1319.5,1049.6) scale(0.962,1)" font-size="56.2" text-anchor="middle">50</text>
<text transform="translate(1516.3,1049.6) scale(0.962,1)" font-size="56.2" text-anchor="middle">60</text>
</g>
<line x1="1049.7" y1="77.5" x2="1152.3" y2="77.5" stroke="#4a7ebb" stroke-width="2.8"/>
<line x1="1049.7" y1="142.4" x2="1152.3" y2="142.4" stroke="#a8414e" stroke-width="2.8"/>
<rect x="1086.9" y="193.2" width="28" height="28" fill="#e8ad22"/>
<text x="1161.24" y="99.37" font-size="54" fill="#1a1718" font-family="'Liberation Serif', 'Noto Serif CJK SC', serif">压力梯度模型</text>
<text x="1160.97" y="163.91" font-size="54" fill="#1a1718" font-family="'Liberation Serif', 'Noto Serif CJK SC', serif">密度梯度模型</text>
<text x="1161.24" y="227.99" font-size="54" fill="#1a1718" font-family="'Liberation Serif', 'Noto Serif CJK SC', serif">现场实测数据</text>
<text x="412.77" y="403.30" font-size="54" fill="#5f5f5f" font-family="'Liberation Serif', 'Noto Serif CJK SC', serif">急速下降</text>
<text x="1087.06" y="597.04" font-size="54" fill="#5f5f5f" font-family="'Liberation Serif', 'Noto Serif CJK SC', serif">压力梯度驱动</text>
<text x="926.64" y="839.95" font-size="54" fill="#a8444f" font-family="'Liberation Serif', 'Noto Serif CJK SC', serif">密度梯度驱动</text>
<text x="848.32" y="1116.13" font-size="54" fill="#1a1718" letter-spacing="1.3" font-family="'Liberation Serif', 'Noto Serif CJK SC', serif">时间</text><text x="958.4" y="1115.3" font-size="54" fill="#1a1718" font-family="Liberation Serif, serif">/d</text>
<g transform="translate(165,771) rotate(-90)">
<text x="-1.5" y="-1.5" font-size="54" fill="#1a1718" font-family="'Liberation Serif', 'Noto Serif CJK SC', serif">瓦斯涌出速率</text>
<g fill="#1a1718" font-family="Liberation Serif, serif" font-size="54"><text x="331.1" y="0.5" font-size="57">(</text><text x="355.6" y="0">m</text><text x="396" y="-18.7" font-size="31">3</text><circle cx="427.3" cy="-19.9" r="5"/><text x="442.2" y="0">d</text><rect x="475.5" y="-29.9" width="11.3" height="1.9"/><text x="485.7" y="-18.7" font-size="31">1</text><text x="505.5" y="0.5" font-size="57">)</text></g>
</g>
<g clip-path="url(#clipR)">
<path d="M1900.0,944.6 L1903.8,941.6 L1907.5,938.6 L1911.3,935.7 L1915.0,932.8 L1918.8,929.9 L1922.5,927.0 L1926.3,924.1 L1930.0,921.3 L1933.8,918.4 L1937.5,915.6 L1941.3,912.8 L1945.1,910.0 L1948.8,907.1 L1952.6,904.3 L1956.3,901.5 L1960.1,898.7 L1963.8,895.9 L1967.6,893.1 L1971.3,890.3 L1975.1,887.6 L1978.8,884.8 L1982.6,882.0 L1986.3,879.3 L1990.1,876.5 L1993.9,873.8 L1997.6,871.1 L2001.4,868.3 L2005.1,865.6 L2008.9,862.9 L2012.6,860.2 L2016.4,857.4 L2020.1,854.7 L2023.9,852.0 L2027.6,849.2 L2031.4,846.4 L2035.2,843.7 L2038.9,841.0 L2042.7,838.4 L2046.4,835.7 L2050.2,833.1 L2053.9,830.4 L2057.7,827.8 L2061.4,825.2 L2065.2,822.6 L2068.9,820.0 L2072.7,817.4 L2076.4,814.8 L2080.2,812.2 L2084.0,809.6 L2087.7,807.0 L2091.5,804.5 L2095.2,801.9 L2099.0,799.3 L2102.7,796.8 L2106.5,794.2 L2110.2,791.7 L2114.0,789.1 L2117.7,786.6 L2121.5,784.1 L2125.3,781.5 L2129.0,779.0 L2132.8,776.5 L2136.5,774.0 L2140.3,771.5 L2144.0,768.9 L2147.8,766.4 L2151.5,763.9 L2155.3,761.4 L2159.0,758.9 L2162.8,756.4 L2166.5,753.9 L2170.3,751.4 L2174.1,748.9 L2177.8,746.4 L2181.6,743.9 L2185.3,741.4 L2189.1,738.9 L2192.8,736.4 L2196.6,733.9 L2200.3,731.4 L2204.1,728.9 L2207.8,726.4 L2211.6,723.9 L2215.4,721.4 L2219.1,718.9 L2222.9,716.4 L2226.6,713.9 L2230.4,711.3 L2234.1,708.8 L2237.9,706.3 L2241.6,703.8 L2245.4,701.3 L2249.1,698.8 L2252.9,696.2 L2256.6,693.7 L2260.4,691.2 L2264.2,688.7 L2267.9,686.2 L2271.7,683.7 L2275.4,681.2 L2279.2,678.7 L2282.9,676.2 L2286.7,673.7 L2290.4,671.2 L2294.2,668.7 L2297.9,666.2 L2301.7,663.7 L2305.5,661.2 L2309.2,658.7 L2313.0,656.2 L2316.7,653.7 L2320.5,651.2 L2324.2,648.7 L2328.0,646.2 L2331.7,643.7 L2335.5,641.2 L2339.2,638.7 L2343.0,636.2 L2346.7,633.7 L2350.5,631.2 L2354.3,628.7 L2358.0,626.2 L2361.8,623.8 L2365.5,621.3 L2369.3,618.8 L2373.0,616.3 L2376.8,613.8 L2380.5,611.3 L2384.3,608.8 L2388.0,606.3 L2391.8,603.9 L2395.6,601.4 L2399.3,598.9 L2403.1,596.4 L2406.8,593.9 L2410.6,591.4 L2414.3,588.9 L2418.1,586.5 L2421.8,584.0 L2425.6,581.5 L2429.3,579.0 L2433.1,576.5 L2436.8,574.0 L2440.6,571.5 L2444.4,569.1 L2448.1,566.6 L2451.9,564.1 L2455.6,561.6 L2459.4,559.1 L2463.1,556.6 L2466.9,554.1 L2470.6,551.7 L2474.4,549.2 L2478.1,546.7 L2481.9,544.2 L2485.7,541.7 L2489.4,539.2 L2493.2,536.8 L2496.9,534.3 L2500.7,531.8 L2504.4,529.3 L2508.2,526.8 L2511.9,524.4 L2515.7,521.9 L2519.4,519.4 L2523.2,516.9 L2526.9,514.4 L2530.7,512.0 L2534.5,509.5 L2538.2,507.0 L2542.0,504.5 L2545.7,502.1 L2549.5,499.6 L2553.2,497.1 L2557.0,494.6 L2560.7,492.2 L2564.5,489.7 L2568.2,487.2 L2572.0,484.8 L2575.8,482.3 L2579.5,479.8 L2583.3,477.3 L2587.0,474.9 L2590.8,472.4 L2594.5,469.9 L2598.3,467.5 L2602.0,465.0 L2605.8,462.6 L2609.5,460.1 L2613.3,457.6 L2617.0,455.2 L2620.8,452.7 L2624.6,450.2 L2628.3,447.8 L2632.1,445.3 L2635.8,442.9 L2639.6,440.4 L2643.3,438.0 L2647.1,435.5 L2650.8,433.0 L2654.6,430.6 L2658.3,428.1 L2662.1,425.7 L2665.9,423.2 L2669.6,420.8 L2673.4,418.3 L2677.1,415.9 L2680.9,413.4 L2684.6,411.0 L2688.4,408.5 L2692.1,406.1 L2695.9,403.6 L2699.6,401.2 L2703.4,398.7 L2707.1,396.3 L2710.9,393.8 L2714.7,391.4 L2718.4,388.9 L2722.2,386.5 L2725.9,384.0 L2729.7,381.6 L2733.4,379.2 L2737.2,376.7 L2740.9,374.3 L2744.7,371.8 L2748.4,369.4 L2752.2,367.0 L2756.0,364.5 L2759.7,362.1 L2763.5,359.6 L2767.2,357.2 L2771.0,354.8 L2774.7,352.3 L2778.5,349.9 L2782.2,347.5 L2786.0,345.0 L2789.7,342.6 L2793.5,340.2 L2797.2,337.7 L2801.0,335.3 L2804.8,332.9 L2808.5,330.5 L2812.3,328.0 L2816.0,325.6 L2819.8,323.2 L2823.5,320.8 L2827.3,318.3 L2831.0,315.9 L2834.8,313.5 L2838.5,311.1 L2842.3,308.7 L2846.1,306.2 L2849.8,303.8 L2853.6,301.4 L2857.3,299.0 L2861.1,296.6 L2864.8,294.2 L2868.6,291.7 L2872.3,289.3 L2876.1,286.9 L2879.8,284.5 L2883.6,282.1 L2887.3,279.7 L2891.1,277.3 L2894.9,274.9 L2898.6,272.5 L2902.4,270.0 L2906.1,267.6 L2909.9,265.2 L2913.6,262.8 L2917.4,260.4 L2921.1,258.0 L2924.9,255.6 L2928.6,253.2 L2932.4,250.8 L2936.2,248.4 L2939.9,246.0 L2943.7,243.6 L2947.4,241.2 L2951.2,238.8 L2954.9,236.4 L2958.7,234.0 L2962.4,231.6 L2966.2,229.2 L2969.9,226.8 L2973.7,224.4 L2977.4,222.1 L2981.2,219.7 L2985.0,217.3 L2988.7,214.9 L2992.5,212.5 L2996.2,210.1 L3000.0,207.7 L3003.7,205.3 L3007.5,202.9 L3011.2,200.6 L3015.0,198.2 L3018.7,195.8 L3022.5,193.4 L3022.5,299.8 L3018.7,301.6 L3015.0,303.5 L3011.2,305.3 L3007.5,307.2 L3003.7,309.0 L3000.0,310.9 L2996.2,312.7 L2992.5,314.6 L2988.7,316.4 L2985.0,318.3 L2981.2,320.1 L2977.4,322.0 L2973.7,323.9 L2969.9,325.7 L2966.2,327.6 L2962.4,329.4 L2958.7,331.3 L2954.9,333.2 L2951.2,335.1 L2947.4,336.9 L2943.7,338.8 L2939.9,340.7 L2936.2,342.6 L2932.4,344.4 L2928.6,346.3 L2924.9,348.2 L2921.1,350.1 L2917.4,352.0 L2913.6,353.9 L2909.9,355.8 L2906.1,357.7 L2902.4,359.6 L2898.6,361.5 L2894.9,363.3 L2891.1,365.3 L2887.3,367.2 L2883.6,369.1 L2879.8,371.0 L2876.1,372.9 L2872.3,374.8 L2868.6,376.7 L2864.8,378.6 L2861.1,380.5 L2857.3,382.4 L2853.6,384.4 L2849.8,386.3 L2846.1,388.2 L2842.3,390.1 L2838.5,392.0 L2834.8,394.0 L2831.0,395.9 L2827.3,397.8 L2823.5,399.8 L2819.8,401.7 L2816.0,403.6 L2812.3,405.6 L2808.5,407.5 L2804.8,409.5 L2801.0,411.4 L2797.2,413.3 L2793.5,415.3 L2789.7,417.2 L2786.0,419.2 L2782.2,421.1 L2778.5,423.1 L2774.7,425.0 L2771.0,427.0 L2767.2,428.9 L2763.5,430.9 L2759.7,432.8 L2756.0,434.8 L2752.2,436.7 L2748.4,438.7 L2744.7,440.7 L2740.9,442.6 L2737.2,444.6 L2733.4,446.6 L2729.7,448.6 L2725.9,450.5 L2722.2,452.5 L2718.4,454.5 L2714.7,456.5 L2710.9,458.5 L2707.1,460.4 L2703.4,462.4 L2699.6,464.4 L2695.9,466.4 L2692.1,468.4 L2688.4,470.4 L2684.6,472.4 L2680.9,474.4 L2677.1,476.5 L2673.4,478.5 L2669.6,480.5 L2665.9,482.5 L2662.1,484.5 L2658.3,486.6 L2654.6,488.6 L2650.8,490.6 L2647.1,492.7 L2643.3,494.7 L2639.6,496.7 L2635.8,498.8 L2632.1,500.8 L2628.3,502.9 L2624.6,504.9 L2620.8,507.0 L2617.0,509.1 L2613.3,511.1 L2609.5,513.2 L2605.8,515.3 L2602.0,517.4 L2598.3,519.5 L2594.5,521.6 L2590.8,523.7 L2587.0,525.8 L2583.3,527.9 L2579.5,530.0 L2575.8,532.1 L2572.0,534.2 L2568.2,536.3 L2564.5,538.4 L2560.7,540.6 L2557.0,542.7 L2553.2,544.8 L2549.5,546.9 L2545.7,549.1 L2542.0,551.2 L2538.2,553.3 L2534.5,555.5 L2530.7,557.6 L2526.9,559.8 L2523.2,561.9 L2519.4,564.1 L2515.7,566.2 L2511.9,568.4 L2508.2,570.5 L2504.4,572.7 L2500.7,574.8 L2496.9,577.0 L2493.2,579.2 L2489.4,581.3 L2485.7,583.5 L2481.9,585.7 L2478.1,587.8 L2474.4,590.0 L2470.6,592.2 L2466.9,594.3 L2463.1,596.5 L2459.4,598.7 L2455.6,600.8 L2451.9,603.0 L2448.1,605.2 L2444.4,607.3 L2440.6,609.5 L2436.8,611.7 L2433.1,613.9 L2429.3,616.0 L2425.6,618.2 L2421.8,620.4 L2418.1,622.5 L2414.3,624.7 L2410.6,626.9 L2406.8,629.1 L2403.1,631.2 L2399.3,633.4 L2395.6,635.6 L2391.8,637.8 L2388.0,640.0 L2384.3,642.2 L2380.5,644.3 L2376.8,646.5 L2373.0,648.7 L2369.3,650.9 L2365.5,653.1 L2361.8,655.3 L2358.0,657.5 L2354.3,659.7 L2350.5,661.9 L2346.7,664.1 L2343.0,666.3 L2339.2,668.5 L2335.5,670.7 L2331.7,672.9 L2328.0,675.1 L2324.2,677.3 L2320.5,679.5 L2316.7,681.7 L2313.0,683.9 L2309.2,686.1 L2305.5,688.3 L2301.7,690.6 L2297.9,692.8 L2294.2,695.0 L2290.4,697.2 L2286.7,699.5 L2282.9,701.7 L2279.2,703.9 L2275.4,706.2 L2271.7,708.4 L2267.9,710.6 L2264.2,712.9 L2260.4,715.1 L2256.6,717.4 L2252.9,719.6 L2249.1,721.9 L2245.4,724.1 L2241.6,726.4 L2237.9,728.6 L2234.1,730.9 L2230.4,733.2 L2226.6,735.4 L2222.9,737.7 L2219.1,739.9 L2215.4,742.2 L2211.6,744.4 L2207.8,746.7 L2204.1,748.9 L2200.3,751.2 L2196.6,753.4 L2192.8,755.7 L2189.1,757.9 L2185.3,760.2 L2181.6,762.4 L2177.8,764.7 L2174.1,766.9 L2170.3,769.2 L2166.5,771.5 L2162.8,773.7 L2159.0,776.0 L2155.3,778.2 L2151.5,780.5 L2147.8,782.8 L2144.0,785.1 L2140.3,787.3 L2136.5,789.6 L2132.8,791.9 L2129.0,794.2 L2125.3,796.5 L2121.5,798.8 L2117.7,801.1 L2114.0,803.4 L2110.2,805.8 L2106.5,808.1 L2102.7,810.4 L2099.0,812.8 L2095.2,815.1 L2091.5,817.5 L2087.7,819.9 L2084.0,822.3 L2080.2,824.6 L2076.4,827.0 L2072.7,829.4 L2068.9,831.9 L2065.2,834.3 L2061.4,836.7 L2057.7,839.2 L2053.9,841.6 L2050.2,844.1 L2046.4,846.6 L2042.7,849.1 L2038.9,851.6 L2035.2,854.2 L2031.4,856.8 L2027.6,859.5 L2023.9,862.1 L2020.1,864.8 L2016.4,867.4 L2012.6,870.1 L2008.9,872.8 L2005.1,875.4 L2001.4,878.1 L1997.6,880.7 L1993.9,883.4 L1990.1,886.1 L1986.3,888.7 L1982.6,891.4 L1978.8,894.1 L1975.1,896.7 L1971.3,899.4 L1967.6,902.1 L1963.8,904.8 L1960.1,907.4 L1956.3,910.1 L1952.6,912.8 L1948.8,915.4 L1945.1,918.1 L1941.3,920.8 L1937.5,923.4 L1933.8,926.1 L1930.0,928.8 L1926.3,931.5 L1922.5,934.1 L1918.8,936.8 L1915.0,939.5 L1911.3,942.2 L1907.5,944.9 L1903.8,947.6 L1900.0,950.3Z" fill="url(#gradR)"/>
<path d="M1900.0,944.6 L1903.8,941.6 L1907.5,938.6 L1911.3,935.7 L1915.0,932.8 L1918.8,929.9 L1922.5,927.0 L1926.3,924.1 L1930.0,921.3 L1933.8,918.4 L1937.5,915.6 L1941.3,912.8 L1945.1,910.0 L1948.8,907.1 L1952.6,904.3 L1956.3,901.5 L1960.1,898.7 L1963.8,895.9 L1967.6,893.1 L1971.3,890.3 L1975.1,887.6 L1978.8,884.8 L1982.6,882.0 L1986.3,879.3 L1990.1,876.5 L1993.9,873.8 L1997.6,871.1 L2001.4,868.3 L2005.1,865.6 L2008.9,862.9 L2012.6,860.2 L2016.4,857.4 L2020.1,854.7 L2023.9,852.0 L2027.6,849.2 L2031.4,846.4 L2035.2,843.7 L2038.9,841.0 L2042.7,838.4 L2046.4,835.7 L2050.2,833.1 L2053.9,830.4 L2057.7,827.8 L2061.4,825.2 L2065.2,822.6 L2068.9,820.0 L2072.7,817.4 L2076.4,814.8 L2080.2,812.2 L2084.0,809.6 L2087.7,807.0 L2091.5,804.5 L2095.2,801.9 L2099.0,799.3 L2102.7,796.8 L2106.5,794.2 L2110.2,791.7 L2114.0,789.1 L2117.7,786.6 L2121.5,784.1 L2125.3,781.5 L2129.0,779.0 L2132.8,776.5 L2136.5,774.0 L2140.3,771.5 L2144.0,768.9 L2147.8,766.4 L2151.5,763.9 L2155.3,761.4 L2159.0,758.9 L2162.8,756.4 L2166.5,753.9 L2170.3,751.4 L2174.1,748.9 L2177.8,746.4 L2181.6,743.9 L2185.3,741.4 L2189.1,738.9 L2192.8,736.4 L2196.6,733.9 L2200.3,731.4 L2204.1,728.9 L2207.8,726.4 L2211.6,723.9 L2215.4,721.4 L2219.1,718.9 L2222.9,716.4 L2226.6,713.9 L2230.4,711.3 L2234.1,708.8 L2237.9,706.3 L2241.6,703.8 L2245.4,701.3 L2249.1,698.8 L2252.9,696.2 L2256.6,693.7 L2260.4,691.2 L2264.2,688.7 L2267.9,686.2 L2271.7,683.7 L2275.4,681.2 L2279.2,678.7 L2282.9,676.2 L2286.7,673.7 L2290.4,671.2 L2294.2,668.7 L2297.9,666.2 L2301.7,663.7 L2305.5,661.2 L2309.2,658.7 L2313.0,656.2 L2316.7,653.7 L2320.5,651.2 L2324.2,648.7 L2328.0,646.2 L2331.7,643.7 L2335.5,641.2 L2339.2,638.7 L2343.0,636.2 L2346.7,633.7 L2350.5,631.2 L2354.3,628.7 L2358.0,626.2 L2361.8,623.8 L2365.5,621.3 L2369.3,618.8 L2373.0,616.3 L2376.8,613.8 L2380.5,611.3 L2384.3,608.8 L2388.0,606.3 L2391.8,603.9 L2395.6,601.4 L2399.3,598.9 L2403.1,596.4 L2406.8,593.9 L2410.6,591.4 L2414.3,588.9 L2418.1,586.5 L2421.8,584.0 L2425.6,581.5 L2429.3,579.0 L2433.1,576.5 L2436.8,574.0 L2440.6,571.5 L2444.4,569.1 L2448.1,566.6 L2451.9,564.1 L2455.6,561.6 L2459.4,559.1 L2463.1,556.6 L2466.9,554.1 L2470.6,551.7 L2474.4,549.2 L2478.1,546.7 L2481.9,544.2 L2485.7,541.7 L2489.4,539.2 L2493.2,536.8 L2496.9,534.3 L2500.7,531.8 L2504.4,529.3 L2508.2,526.8 L2511.9,524.4 L2515.7,521.9 L2519.4,519.4 L2523.2,516.9 L2526.9,514.4 L2530.7,512.0 L2534.5,509.5 L2538.2,507.0 L2542.0,504.5 L2545.7,502.1 L2549.5,499.6 L2553.2,497.1 L2557.0,494.6 L2560.7,492.2 L2564.5,489.7 L2568.2,487.2 L2572.0,484.8 L2575.8,482.3 L2579.5,479.8 L2583.3,477.3 L2587.0,474.9 L2590.8,472.4 L2594.5,469.9 L2598.3,467.5 L2602.0,465.0 L2605.8,462.6 L2609.5,460.1 L2613.3,457.6 L2617.0,455.2 L2620.8,452.7 L2624.6,450.2 L2628.3,447.8 L2632.1,445.3 L2635.8,442.9 L2639.6,440.4 L2643.3,438.0 L2647.1,435.5 L2650.8,433.0 L2654.6,430.6 L2658.3,428.1 L2662.1,425.7 L2665.9,423.2 L2669.6,420.8 L2673.4,418.3 L2677.1,415.9 L2680.9,413.4 L2684.6,411.0 L2688.4,408.5 L2692.1,406.1 L2695.9,403.6 L2699.6,401.2 L2703.4,398.7 L2707.1,396.3 L2710.9,393.8 L2714.7,391.4 L2718.4,388.9 L2722.2,386.5 L2725.9,384.0 L2729.7,381.6 L2733.4,379.2 L2737.2,376.7 L2740.9,374.3 L2744.7,371.8 L2748.4,369.4 L2752.2,367.0 L2756.0,364.5 L2759.7,362.1 L2763.5,359.6 L2767.2,357.2 L2771.0,354.8 L2774.7,352.3 L2778.5,349.9 L2782.2,347.5 L2786.0,345.0 L2789.7,342.6 L2793.5,340.2 L2797.2,337.7 L2801.0,335.3 L2804.8,332.9 L2808.5,330.5 L2812.3,328.0 L2816.0,325.6 L2819.8,323.2 L2823.5,320.8 L2827.3,318.3 L2831.0,315.9 L2834.8,313.5 L2838.5,311.1 L2842.3,308.7 L2846.1,306.2 L2849.8,303.8 L2853.6,301.4 L2857.3,299.0 L2861.1,296.6 L2864.8,294.2 L2868.6,291.7 L2872.3,289.3 L2876.1,286.9 L2879.8,284.5 L2883.6,282.1 L2887.3,279.7 L2891.1,277.3 L2894.9,274.9 L2898.6,272.5 L2902.4,270.0 L2906.1,267.6 L2909.9,265.2 L2913.6,262.8 L2917.4,260.4 L2921.1,258.0 L2924.9,255.6 L2928.6,253.2 L2932.4,250.8 L2936.2,248.4 L2939.9,246.0 L2943.7,243.6 L2947.4,241.2 L2951.2,238.8 L2954.9,236.4 L2958.7,234.0 L2962.4,231.6 L2966.2,229.2 L2969.9,226.8 L2973.7,224.4 L2977.4,222.1 L2981.2,219.7 L2985.0,217.3 L2988.7,214.9 L2992.5,212.5 L2996.2,210.1 L3000.0,207.7 L3003.7,205.3 L3007.5,202.9 L3011.2,200.6 L3015.0,198.2 L3018.7,195.8 L3022.5,193.4 L3022.5,299.8 L3018.7,301.6 L3015.0,303.5 L3011.2,305.3 L3007.5,307.2 L3003.7,309.0 L3000.0,310.9 L2996.2,312.7 L2992.5,314.6 L2988.7,316.4 L2985.0,318.3 L2981.2,320.1 L2977.4,322.0 L2973.7,323.9 L2969.9,325.7 L2966.2,327.6 L2962.4,329.4 L2958.7,331.3 L2954.9,333.2 L2951.2,335.1 L2947.4,336.9 L2943.7,338.8 L2939.9,340.7 L2936.2,342.6 L2932.4,344.4 L2928.6,346.3 L2924.9,348.2 L2921.1,350.1 L2917.4,352.0 L2913.6,353.9 L2909.9,355.8 L2906.1,357.7 L2902.4,359.6 L2898.6,361.5 L2894.9,363.3 L2891.1,365.3 L2887.3,367.2 L2883.6,369.1 L2879.8,371.0 L2876.1,372.9 L2872.3,374.8 L2868.6,376.7 L2864.8,378.6 L2861.1,380.5 L2857.3,382.4 L2853.6,384.4 L2849.8,386.3 L2846.1,388.2 L2842.3,390.1 L2838.5,392.0 L2834.8,394.0 L2831.0,395.9 L2827.3,397.8 L2823.5,399.8 L2819.8,401.7 L2816.0,403.6 L2812.3,405.6 L2808.5,407.5 L2804.8,409.5 L2801.0,411.4 L2797.2,413.3 L2793.5,415.3 L2789.7,417.2 L2786.0,419.2 L2782.2,421.1 L2778.5,423.1 L2774.7,425.0 L2771.0,427.0 L2767.2,428.9 L2763.5,430.9 L2759.7,432.8 L2756.0,434.8 L2752.2,436.7 L2748.4,438.7 L2744.7,440.7 L2740.9,442.6 L2737.2,444.6 L2733.4,446.6 L2729.7,448.6 L2725.9,450.5 L2722.2,452.5 L2718.4,454.5 L2714.7,456.5 L2710.9,458.5 L2707.1,460.4 L2703.4,462.4 L2699.6,464.4 L2695.9,466.4 L2692.1,468.4 L2688.4,470.4 L2684.6,472.4 L2680.9,474.4 L2677.1,476.5 L2673.4,478.5 L2669.6,480.5 L2665.9,482.5 L2662.1,484.5 L2658.3,486.6 L2654.6,488.6 L2650.8,490.6 L2647.1,492.7 L2643.3,494.7 L2639.6,496.7 L2635.8,498.8 L2632.1,500.8 L2628.3,502.9 L2624.6,504.9 L2620.8,507.0 L2617.0,509.1 L2613.3,511.1 L2609.5,513.2 L2605.8,515.3 L2602.0,517.4 L2598.3,519.5 L2594.5,521.6 L2590.8,523.7 L2587.0,525.8 L2583.3,527.9 L2579.5,530.0 L2575.8,532.1 L2572.0,534.2 L2568.2,536.3 L2564.5,538.4 L2560.7,540.6 L2557.0,542.7 L2553.2,544.8 L2549.5,546.9 L2545.7,549.1 L2542.0,551.2 L2538.2,553.3 L2534.5,555.5 L2530.7,557.6 L2526.9,559.8 L2523.2,561.9 L2519.4,564.1 L2515.7,566.2 L2511.9,568.4 L2508.2,570.5 L2504.4,572.7 L2500.7,574.8 L2496.9,577.0 L2493.2,579.2 L2489.4,581.3 L2485.7,583.5 L2481.9,585.7 L2478.1,587.8 L2474.4,590.0 L2470.6,592.2 L2466.9,594.3 L2463.1,596.5 L2459.4,598.7 L2455.6,600.8 L2451.9,603.0 L2448.1,605.2 L2444.4,607.3 L2440.6,609.5 L2436.8,611.7 L2433.1,613.9 L2429.3,616.0 L2425.6,618.2 L2421.8,620.4 L2418.1,622.5 L2414.3,624.7 L2410.6,626.9 L2406.8,629.1 L2403.1,631.2 L2399.3,633.4 L2395.6,635.6 L2391.8,637.8 L2388.0,640.0 L2384.3,642.2 L2380.5,644.3 L2376.8,646.5 L2373.0,648.7 L2369.3,650.9 L2365.5,653.1 L2361.8,655.3 L2358.0,657.5 L2354.3,659.7 L2350.5,661.9 L2346.7,664.1 L2343.0,666.3 L2339.2,668.5 L2335.5,670.7 L2331.7,672.9 L2328.0,675.1 L2324.2,677.3 L2320.5,679.5 L2316.7,681.7 L2313.0,683.9 L2309.2,686.1 L2305.5,688.3 L2301.7,690.6 L2297.9,692.8 L2294.2,695.0 L2290.4,697.2 L2286.7,699.5 L2282.9,701.7 L2279.2,703.9 L2275.4,706.2 L2271.7,708.4 L2267.9,710.6 L2264.2,712.9 L2260.4,715.1 L2256.6,717.4 L2252.9,719.6 L2249.1,721.9 L2245.4,724.1 L2241.6,726.4 L2237.9,728.6 L2234.1,730.9 L2230.4,733.2 L2226.6,735.4 L2222.9,737.7 L2219.1,739.9 L2215.4,742.2 L2211.6,744.4 L2207.8,746.7 L2204.1,748.9 L2200.3,751.2 L2196.6,753.4 L2192.8,755.7 L2189.1,757.9 L2185.3,760.2 L2181.6,762.4 L2177.8,764.7 L2174.1,766.9 L2170.3,769.2 L2166.5,771.5 L2162.8,773.7 L2159.0,776.0 L2155.3,778.2 L2151.5,780.5 L2147.8,782.8 L2144.0,785.1 L2140.3,787.3 L2136.5,789.6 L2132.8,791.9 L2129.0,794.2 L2125.3,796.5 L2121.5,798.8 L2117.7,801.1 L2114.0,803.4 L2110.2,805.8 L2106.5,808.1 L2102.7,810.4 L2099.0,812.8 L2095.2,815.1 L2091.5,817.5 L2087.7,819.9 L2084.0,822.3 L2080.2,824.6 L2076.4,827.0 L2072.7,829.4 L2068.9,831.9 L2065.2,834.3 L2061.4,836.7 L2057.7,839.2 L2053.9,841.6 L2050.2,844.1 L2046.4,846.6 L2042.7,849.1 L2038.9,851.6 L2035.2,854.2 L2031.4,856.8 L2027.6,859.5 L2023.9,862.1 L2020.1,864.8 L2016.4,867.4 L2012.6,870.1 L2008.9,872.8 L2005.1,875.4 L2001.4,878.1 L1997.6,880.7 L1993.9,883.4 L1990.1,886.1 L1986.3,888.7 L1982.6,891.4 L1978.8,894.1 L1975.1,896.7 L1971.3,899.4 L1967.6,902.1 L1963.8,904.8 L1960.1,907.4 L1956.3,910.1 L1952.6,912.8 L1948.8,915.4 L1945.1,918.1 L1941.3,920.8 L1937.5,923.4 L1933.8,926.1 L1930.0,928.8 L1926.3,931.5 L1922.5,934.1 L1918.8,936.8 L1915.0,939.5 L1911.3,942.2 L1907.5,944.9 L1903.8,947.6 L1900.0,950.3Z" fill="url(#hatchR)"/>
<path d="M1842.5,993.0 L1845.2,990.6 L1847.9,988.3 L1850.6,985.9 L1853.3,983.6 L1856.0,981.2 L1858.7,978.9 L1861.4,976.5 L1864.1,974.2 L1866.8,971.9 L1869.5,969.6 L1872.3,967.3 L1875.0,965.0 L1877.7,962.7 L1880.5,960.4 L1883.3,958.1 L1886.0,955.9 L1888.8,953.6 L1891.5,951.4 L1894.3,949.1 L1897.1,946.9 L1899.9,944.6 L1902.7,942.4 L1905.5,940.2 L1908.3,938.0 L1911.1,935.8 L1913.9,933.6 L1916.8,931.4 L1919.6,929.2 L1922.4,927.1 L1925.3,924.9 L1928.1,922.7 L1931.0,920.6 L1933.8,918.4 L1936.7,916.2 L1939.5,914.1 L1942.4,911.9 L1945.3,909.8 L1948.1,907.7 L1951.0,905.5 L1953.8,903.4 L1956.7,901.2 L1959.6,899.1 L1962.4,896.9 L1965.3,894.8 L1968.2,892.7 L1971.0,890.5 L1973.9,888.4 L1976.8,886.3 L1979.7,884.2 L1982.5,882.1 L1985.4,880.0 L1988.3,877.9 L1991.2,875.7 L1994.1,873.6 L1997.0,871.5 L1999.9,869.4 L2002.8,867.3 L2005.6,865.2 L2008.5,863.1 L2011.4,861.0 L2014.3,858.9 L2017.2,856.8 L2020.1,854.7 L2023.0,852.6 L2025.9,850.5 L2028.8,848.4 L2031.6,846.3 L2034.5,844.2 L2037.4,842.1 L2040.3,840.0 L2043.2,837.9 L2046.2,835.9 L2049.1,833.8 L2052.0,831.8 L2054.9,829.7 L2057.9,827.7 L2060.8,825.6 L2063.7,823.6 L2066.7,821.5 L2069.6,819.5 L2072.5,817.5 L2075.5,815.4 L2078.4,813.4 L2081.4,811.4 L2084.3,809.4 L2087.3,807.3 L2090.2,805.3 L2093.2,803.3 L2096.1,801.3 L2099.1,799.3 L2102.0,797.3 L2105.0,795.2 L2107.9,793.2 L2110.9,791.2 L2113.9,789.2 L2116.8,787.2 L2119.8,785.2 L2122.7,783.2 L2125.7,781.2 L2128.7,779.2 L2131.6,777.3 L2134.6,775.3 L2137.6,773.3 L2140.5,771.3 L2143.5,769.3 L2146.5,767.3 L2149.5,765.3 L2152.4,763.3 L2155.4,761.3 L2158.4,759.4 L2161.4,757.4 L2164.3,755.4 L2167.3,753.4 L2170.3,751.4 L2173.3,749.4 L2176.2,747.5 L2179.2,745.5 L2182.2,743.5 L2185.2,741.5 L2188.1,739.5 L2191.1,737.5 L2194.1,735.6 L2197.1,733.6 L2200.0,731.6 L2203.0,729.6 L2206.0,727.6 L2209.0,725.7 L2211.9,723.7 L2214.9,721.7 L2217.9,719.7 L2220.8,717.7 L2223.8,715.7 L2226.8,713.7 L2229.8,711.7 L2232.7,709.8 L2235.7,707.8 L2238.7,705.8 L2241.6,703.8 L2244.6,701.8 L2247.6,699.8 L2250.5,697.8 L2253.5,695.8 L2256.5,693.8 L2259.5,691.9 L2262.4,689.9 L2265.4,687.9 L2268.4,685.9 L2271.3,683.9 L2274.3,681.9 L2277.3,679.9 L2280.3,678.0 L2283.2,676.0 L2286.2,674.0 L2289.2,672.0 L2292.2,670.0 L2295.1,668.0 L2298.1,666.1 L2301.1,664.1 L2304.1,662.1 L2307.0,660.1 L2310.0,658.1 L2313.0,656.2 L2316.0,654.2 L2318.9,652.2 L2321.9,650.2 L2324.9,648.2 L2327.9,646.3 L2330.8,644.3 L2333.8,642.3 L2336.8,640.3 L2339.8,638.4 L2342.7,636.4 L2345.7,634.4 L2348.7,632.4 L2351.7,630.4 L2354.7,628.5 L2357.6,626.5 L2360.6,624.5 L2363.6,622.5 L2366.6,620.6 L2369.6,618.6 L2372.5,616.6 L2375.5,614.6 L2378.5,612.7 L2381.5,610.7 L2384.5,608.7 L2387.4,606.7 L2390.4,604.8 L2393.4,602.8 L2396.4,600.8 L2399.4,598.9 L2402.3,596.9 L2405.3,594.9 L2408.3,592.9 L2411.3,591.0 L2414.3,589.0 L2417.2,587.0 L2420.2,585.0 L2423.2,583.1 L2426.2,581.1 L2429.2,579.1 L2432.1,577.1 L2435.1,575.2 L2438.1,573.2 L2441.1,571.2 L2444.1,569.3 L2447.0,567.3 L2450.0,565.3 L2453.0,563.3 L2456.0,561.4 L2459.0,559.4 L2461.9,557.4 L2464.9,555.4 L2467.9,553.5 L2470.9,551.5 L2473.9,549.5 L2476.8,547.6 L2479.8,545.6 L2482.8,543.6 L2485.8,541.6 L2488.8,539.7 L2491.7,537.7 L2494.7,535.7 L2497.7,533.8 L2500.7,531.8 L2503.7,529.8 L2506.7,527.8 L2509.6,525.9 L2512.6,523.9 L2515.6,521.9 L2518.6,520.0 L2521.6,518.0 L2524.6,516.0 L2527.5,514.1 L2530.5,512.1 L2533.5,510.1 L2536.5,508.2 L2539.5,506.2 L2542.5,504.2 L2545.4,502.2 L2548.4,500.3 L2551.4,498.3 L2554.4,496.3 L2557.4,494.4 L2560.4,492.4 L2563.4,490.4 L2566.3,488.5 L2569.3,486.5 L2572.3,484.6 L2575.3,482.6 L2578.3,480.6 L2581.3,478.7 L2584.3,476.7 L2587.2,474.7 L2590.2,472.8 L2593.2,470.8 L2596.2,468.8 L2599.2,466.9 L2602.2,464.9 L2605.2,463.0 L2608.2,461.0 L2611.1,459.0 L2614.1,457.1 L2617.1,455.1 L2620.1,453.2 L2623.1,451.2 L2626.1,449.2 L2629.1,447.3 L2632.1,445.3 L2635.1,443.4 L2638.0,441.4 L2641.0,439.5 L2644.0,437.5 L2647.0,435.5 L2650.0,433.6 L2653.0,431.6 L2656.0,429.7 L2659.0,427.7 L2662.0,425.8 L2665.0,423.8 L2668.0,421.8 L2671.0,419.9 L2673.9,417.9 L2676.9,416.0 L2679.9,414.0 L2682.9,412.1 L2685.9,410.1 L2688.9,408.2 L2691.9,406.2 L2694.9,404.3 L2697.9,402.3 L2700.9,400.4 L2703.9,398.4 L2706.9,396.4 L2709.9,394.5 L2712.9,392.5 L2715.9,390.6 L2718.9,388.6 L2721.8,386.7 L2724.8,384.7 L2727.8,382.8 L2730.8,380.8 L2733.8,378.9 L2736.8,376.9 L2739.8,375.0 L2742.8,373.0 L2745.8,371.1 L2748.8,369.2 L2751.8,367.2 L2754.8,365.3 L2757.8,363.3 L2760.8,361.4 L2763.8,359.4 L2766.8,357.5 L2769.8,355.5 L2772.8,353.6 L2775.8,351.6 L2778.8,349.7 L2781.8,347.8 L2784.8,345.8 L2787.8,343.9 L2790.8,341.9 L2793.8,340.0 L2796.8,338.0 L2799.8,336.1 L2802.8,334.2 L2805.8,332.2 L2808.8,330.3 L2811.8,328.3 L2814.8,326.4 L2817.8,324.5 L2820.8,322.5 L2823.8,320.6 L2826.8,318.6 L2829.8,316.7 L2832.8,314.8 L2835.8,312.8 L2838.8,310.9 L2841.8,309.0 L2844.8,307.0 L2847.8,305.1 L2850.9,303.2 L2853.9,301.2 L2856.9,299.3 L2859.9,297.3 L2862.9,295.4 L2865.9,293.5 L2868.9,291.5 L2871.9,289.6 L2874.9,287.7 L2877.9,285.7 L2880.9,283.8 L2883.9,281.9 L2886.9,280.0 L2889.9,278.0 L2892.9,276.1 L2896.0,274.2 L2899.0,272.2 L2902.0,270.3 L2905.0,268.4 L2908.0,266.4 L2911.0,264.5 L2914.0,262.6 L2917.0,260.7 L2920.0,258.7 L2923.0,256.8 L2926.0,254.9 L2929.1,253.0 L2932.1,251.0 L2935.1,249.1 L2938.1,247.2 L2941.1,245.2 L2944.1,243.3 L2947.1,241.4 L2950.1,239.5 L2953.2,237.6 L2956.2,235.6 L2959.2,233.7 L2962.2,231.8 L2965.2,229.9 L2968.2,227.9 L2971.2,226.0 L2974.2,224.1 L2977.3,222.2 L2980.3,220.3 L2983.3,218.3 L2986.3,216.4 L2989.3,214.5 L2992.3,212.6 L2995.4,210.7 L2998.4,208.7 L3001.4,206.8 L3004.4,204.9 L3007.4,203.0 L3010.4,201.1 L3013.4,199.1 L3016.5,197.2 L3019.5,195.3 L3022.5,193.4" fill="none" stroke="#417fc0" stroke-width="6.4" stroke-linejoin="round"/>
<path d="M1842.5,993.0 L1845.2,990.9 L1848.0,988.9 L1850.7,986.8 L1853.5,984.7 L1856.2,982.7 L1859.0,980.6 L1861.7,978.6 L1864.5,976.5 L1867.2,974.4 L1870.0,972.4 L1872.7,970.4 L1875.5,968.3 L1878.3,966.3 L1881.0,964.2 L1883.8,962.2 L1886.6,960.2 L1889.3,958.1 L1892.1,956.1 L1894.9,954.1 L1897.7,952.1 L1900.4,950.0 L1903.2,948.0 L1906.0,946.0 L1908.8,944.0 L1911.6,942.0 L1914.4,940.0 L1917.1,938.0 L1919.9,936.0 L1922.7,934.0 L1925.5,932.0 L1928.3,930.0 L1931.1,928.0 L1933.9,926.0 L1936.7,924.0 L1939.5,922.0 L1942.3,920.0 L1945.1,918.1 L1947.9,916.1 L1950.7,914.1 L1953.5,912.1 L1956.3,910.1 L1959.1,908.1 L1961.9,906.1 L1964.7,904.1 L1967.5,902.1 L1970.3,900.1 L1973.1,898.1 L1975.9,896.2 L1978.7,894.2 L1981.5,892.2 L1984.3,890.2 L1987.1,888.2 L1989.9,886.2 L1992.7,884.2 L1995.5,882.2 L1998.3,880.2 L2001.1,878.3 L2003.9,876.3 L2006.7,874.3 L2009.5,872.3 L2012.3,870.3 L2015.1,868.3 L2017.9,866.4 L2020.7,864.4 L2023.5,862.4 L2026.3,860.4 L2029.1,858.4 L2031.9,856.4 L2034.8,854.4 L2037.6,852.5 L2040.4,850.6 L2043.3,848.7 L2046.1,846.8 L2049.0,844.9 L2051.9,843.0 L2054.7,841.1 L2057.6,839.2 L2060.5,837.3 L2063.3,835.5 L2066.2,833.6 L2069.1,831.7 L2072.0,829.9 L2074.9,828.0 L2077.8,826.2 L2080.7,824.3 L2083.6,822.5 L2086.5,820.7 L2089.4,818.8 L2092.3,817.0 L2095.2,815.2 L2098.1,813.3 L2101.0,811.5 L2103.9,809.7 L2106.8,807.9 L2109.8,806.1 L2112.7,804.3 L2115.6,802.5 L2118.5,800.7 L2121.4,798.9 L2124.4,797.1 L2127.3,795.3 L2130.2,793.5 L2133.2,791.7 L2136.1,789.9 L2139.0,788.1 L2142.0,786.3 L2144.9,784.5 L2147.8,782.7 L2150.8,781.0 L2153.7,779.2 L2156.7,777.4 L2159.6,775.6 L2162.6,773.9 L2165.5,772.1 L2168.4,770.3 L2171.4,768.5 L2174.3,766.8 L2177.3,765.0 L2180.2,763.2 L2183.2,761.5 L2186.1,759.7 L2189.1,757.9 L2192.0,756.2 L2195.0,754.4 L2197.9,752.6 L2200.9,750.9 L2203.8,749.1 L2206.8,747.3 L2209.7,745.6 L2212.7,743.8 L2215.6,742.0 L2218.5,740.3 L2221.5,738.5 L2224.4,736.7 L2227.4,735.0 L2230.3,733.2 L2233.3,731.4 L2236.2,729.7 L2239.1,727.9 L2242.1,726.1 L2245.0,724.3 L2248.0,722.6 L2250.9,720.8 L2253.9,719.0 L2256.8,717.3 L2259.8,715.5 L2262.7,713.7 L2265.7,712.0 L2268.6,710.2 L2271.6,708.5 L2274.5,706.7 L2277.5,705.0 L2280.4,703.2 L2283.4,701.4 L2286.3,699.7 L2289.3,697.9 L2292.2,696.2 L2295.2,694.4 L2298.1,692.7 L2301.1,690.9 L2304.0,689.2 L2307.0,687.4 L2310.0,685.7 L2312.9,683.9 L2315.9,682.2 L2318.8,680.5 L2321.8,678.7 L2324.8,677.0 L2327.7,675.2 L2330.7,673.5 L2333.6,671.7 L2336.6,670.0 L2339.6,668.3 L2342.5,666.5 L2345.5,664.8 L2348.5,663.1 L2351.4,661.3 L2354.4,659.6 L2357.3,657.9 L2360.3,656.1 L2363.3,654.4 L2366.2,652.7 L2369.2,650.9 L2372.2,649.2 L2375.1,647.5 L2378.1,645.7 L2381.1,644.0 L2384.1,642.3 L2387.0,640.6 L2390.0,638.8 L2393.0,637.1 L2395.9,635.4 L2398.9,633.7 L2401.9,631.9 L2404.8,630.2 L2407.8,628.5 L2410.8,626.8 L2413.8,625.0 L2416.7,623.3 L2419.7,621.6 L2422.7,619.9 L2425.6,618.2 L2428.6,616.4 L2431.6,614.7 L2434.6,613.0 L2437.5,611.3 L2440.5,609.6 L2443.5,607.8 L2446.5,606.1 L2449.4,604.4 L2452.4,602.7 L2455.4,601.0 L2458.4,599.3 L2461.3,597.5 L2464.3,595.8 L2467.3,594.1 L2470.3,592.4 L2473.2,590.7 L2476.2,588.9 L2479.2,587.2 L2482.2,585.5 L2485.1,583.8 L2488.1,582.1 L2491.1,580.4 L2494.1,578.7 L2497.0,576.9 L2500.0,575.2 L2503.0,573.5 L2506.0,571.8 L2508.9,570.1 L2511.9,568.4 L2514.9,566.7 L2517.9,565.0 L2520.9,563.3 L2523.8,561.5 L2526.8,559.8 L2529.8,558.1 L2532.8,556.4 L2535.8,554.7 L2538.8,553.0 L2541.7,551.3 L2544.7,549.6 L2547.7,547.9 L2550.7,546.2 L2553.7,544.5 L2556.7,542.8 L2559.7,541.2 L2562.7,539.5 L2565.6,537.8 L2568.6,536.1 L2571.6,534.4 L2574.6,532.7 L2577.6,531.0 L2580.6,529.4 L2583.6,527.7 L2586.6,526.0 L2589.6,524.3 L2592.6,522.6 L2595.6,521.0 L2598.6,519.3 L2601.6,517.6 L2604.6,516.0 L2607.6,514.3 L2610.6,512.6 L2613.6,511.0 L2616.6,509.3 L2619.6,507.7 L2622.6,506.0 L2625.6,504.3 L2628.7,502.7 L2631.7,501.0 L2634.7,499.4 L2637.7,497.8 L2640.7,496.1 L2643.7,494.5 L2646.7,492.8 L2649.8,491.2 L2652.8,489.6 L2655.8,487.9 L2658.8,486.3 L2661.8,484.7 L2664.9,483.0 L2667.9,481.4 L2670.9,479.8 L2673.9,478.2 L2677.0,476.5 L2680.0,474.9 L2683.0,473.3 L2686.1,471.7 L2689.1,470.1 L2692.1,468.4 L2695.1,466.8 L2698.2,465.2 L2701.2,463.6 L2704.2,462.0 L2707.3,460.4 L2710.3,458.8 L2713.4,457.2 L2716.4,455.6 L2719.4,454.0 L2722.5,452.4 L2725.5,450.8 L2728.5,449.1 L2731.6,447.6 L2734.6,446.0 L2737.7,444.4 L2740.7,442.8 L2743.8,441.2 L2746.8,439.6 L2749.8,438.0 L2752.9,436.4 L2755.9,434.8 L2759.0,433.2 L2762.0,431.6 L2765.1,430.0 L2768.1,428.4 L2771.2,426.9 L2774.2,425.3 L2777.3,423.7 L2780.3,422.1 L2783.4,420.5 L2786.4,418.9 L2789.5,417.4 L2792.5,415.8 L2795.6,414.2 L2798.6,412.6 L2801.7,411.1 L2804.7,409.5 L2807.8,407.9 L2810.8,406.3 L2813.9,404.8 L2816.9,403.2 L2820.0,401.6 L2823.0,400.0 L2826.1,398.5 L2829.1,396.9 L2832.2,395.3 L2835.2,393.7 L2838.3,392.2 L2841.3,390.6 L2844.4,389.0 L2847.5,387.5 L2850.5,385.9 L2853.6,384.4 L2856.6,382.8 L2859.7,381.2 L2862.7,379.7 L2865.8,378.1 L2868.9,376.5 L2871.9,375.0 L2875.0,373.4 L2878.0,371.9 L2881.1,370.3 L2884.2,368.8 L2887.2,367.2 L2890.3,365.7 L2893.4,364.1 L2896.4,362.6 L2899.5,361.0 L2902.6,359.5 L2905.6,357.9 L2908.7,356.4 L2911.8,354.8 L2914.8,353.3 L2917.9,351.7 L2921.0,350.2 L2924.0,348.6 L2927.1,347.1 L2930.2,345.6 L2933.2,344.0 L2936.3,342.5 L2939.4,340.9 L2942.5,339.4 L2945.5,337.9 L2948.6,336.3 L2951.7,334.8 L2954.7,333.3 L2957.8,331.7 L2960.9,330.2 L2964.0,328.7 L2967.0,327.2 L2970.1,325.6 L2973.2,324.1 L2976.3,322.6 L2979.4,321.0 L2982.4,319.5 L2985.5,318.0 L2988.6,316.5 L2991.7,315.0 L2994.8,313.4 L2997.8,311.9 L3000.9,310.4 L3004.0,308.9 L3007.1,307.4 L3010.2,305.9 L3013.2,304.3 L3016.3,302.8 L3019.4,301.3 L3022.5,299.8" fill="none" stroke="#e8262c" stroke-width="6.4" stroke-linejoin="round"/>
<line x1="1843.5" y1="992" x2="1932.5" y2="924" stroke="#1a1718" stroke-width="1"/>
</g>
<line x1="2531.5" y1="547.1" x2="2517.5" y2="622" stroke="#9a9a9a" stroke-width="2.2"/>
<g stroke="#1a1718" stroke-width="2.8" fill="none">
<rect x="1842.5" y="32.4" width="1180.0" height="961.1"/>
<line x1="1842.5" y1="753.5" x2="1860.7" y2="753.5"/>
<line x1="1842.5" y1="513.5" x2="1860.7" y2="513.5"/>
<line x1="1842.5" y1="271.8" x2="1860.7" y2="271.8"/>
<line x1="2039.2" y1="993.5" x2="2039.2" y2="975.0"/>
<line x1="2235.8" y1="993.5" x2="2235.8" y2="975.0"/>
<line x1="2432.5" y1="993.5" x2="2432.5" y2="975.0"/>
<line x1="2629.2" y1="993.5" x2="2629.2" y2="975.0"/>
<line x1="2825.8" y1="993.5" x2="2825.8" y2="975.0"/>
</g>
<g fill="#1a1718" font-size="54" font-family="Liberation Serif, serif">
<text transform="translate(1822.1,45.3) scale(0.962,1)" font-size="56.2" text-anchor="end" word-spacing="2">40 000</text>
<text transform="translate(1822.1,287) scale(0.962,1)" font-size="56.2" text-anchor="end" word-spacing="2">30 000</text>
<text transform="translate(1822.1,528.3) scale(0.962,1)" font-size="56.2" text-anchor="end" word-spacing="2">20 000</text>
<text transform="translate(1822.1,769) scale(0.962,1)" font-size="56.2" text-anchor="end" word-spacing="2">10 000</text>
<text transform="translate(1822.1,1051.7) scale(0.962,1)" font-size="56.2" text-anchor="end">0</text>
<text transform="translate(2039.7,1052) scale(0.962,1)" font-size="56.2" text-anchor="middle">10</text>
<text transform="translate(2236.3,1052) scale(0.962,1)" font-size="56.2" text-anchor="middle">20</text>
<text transform="translate(2433.0,1052) scale(0.962,1)" font-size="56.2" text-anchor="middle">30</text>
<text transform="translate(2629.7,1052) scale(0.962,1)" font-size="56.2" text-anchor="middle">40</text>
<text transform="translate(2826.3,1052) scale(0.962,1)" font-size="56.2" text-anchor="middle">50</text>
<text transform="translate(3023.0,1052) scale(0.962,1)" font-size="56.2" text-anchor="middle">60</text>
</g>
<text x="2354.12" y="1116.13" font-size="54" fill="#1a1718" letter-spacing="1.3" font-family="'Liberation Serif', 'Noto Serif CJK SC', serif">时间</text><text x="2464.2" y="1115.3" font-size="54" fill="#1a1718" font-family="Liberation Serif, serif">/d</text>
<line x1="1879.9" y1="91.9" x2="1991.2" y2="91.9" stroke="#4a7fbf" stroke-width="2.8"/>
<line x1="1877.7" y1="163.1" x2="1989" y2="163.1" stroke="#d2282e" stroke-width="2.8"/>
<text x="2005.74" y="114.02" font-size="54" fill="#1a1718" font-family="'Liberation Serif', 'Noto Serif CJK SC', serif">压力梯度模型</text>
<text x="2005.47" y="187.26" font-size="54" fill="#1a1718" font-family="'Liberation Serif', 'Noto Serif CJK SC', serif">密度梯度模型</text>
<text x="2210.28" y="547.83" font-size="54" fill="#595959" font-family="'Liberation Serif', 'Noto Serif CJK SC', serif">达西流</text>
<text x="2402.62" y="690.43" font-size="54" fill="#595959" font-family="'Liberation Serif', 'Noto Serif CJK SC', serif">模型差异</text>
<text x="2554.66" y="805.30" font-size="54" fill="#c0272d" letter-spacing="0.5" font-family="'Liberation Serif', 'Noto Serif CJK SC', serif">游离瓦斯密度梯度</text>
<g transform="translate(1646.5,735.3) rotate(-90)">
<text x="-1.5" y="-1.0" font-size="54" fill="#1a1718" font-family="'Liberation Serif', 'Noto Serif CJK SC', serif">累计瓦斯涌出量</text>
<g fill="#1a1718" font-family="Liberation Serif, serif" font-size="54"><text x="379" y="0">/m</text><text x="432.7" y="-18.7" font-size="31">3</text></g>
</g>
<g transform="translate(2180,240) scale(0.28050)" filter="url(#soft)"><circle cx="459" cy="443.5" r="373" fill="#fff" stroke="#333" stroke-width="4" stroke-dasharray="22 6"/><g fill="#757a82"><path d="M424.5,117.0 C428.7,112.4 437.6,108.5 456.3,106.4 C475.0,104.3 518.4,102.5 536.7,104.3 C555.0,106.1 562.1,110.7 566.3,117.0 C570.5,123.3 566.9,133.1 562.0,142.3 C557.1,151.5 547.3,163.2 536.7,172.0 C526.1,180.8 511.3,190.6 498.6,195.2 C485.9,199.8 469.7,200.6 460.5,199.5 C451.3,198.4 447.5,195.6 443.6,188.9 C439.7,182.2 439.3,168.5 437.2,159.3 C435.1,150.1 433.0,141.0 430.9,133.9 C428.8,126.9 420.3,121.6 424.5,117.0Z"/><path d="M386.5,201.6 C393.6,199.5 398.8,201.6 401.3,210.0 C403.8,218.4 402.7,237.5 401.3,252.3 C399.9,267.1 397.0,284.1 392.8,298.9 C388.6,313.7 383.6,332.0 375.9,341.2 C368.1,350.4 355.5,352.5 346.3,353.9 C337.1,355.3 328.7,355.2 320.9,349.6 C313.1,344.0 303.2,329.2 299.7,320.0 C296.2,310.8 295.5,305.2 299.7,294.6 C303.9,284.0 315.2,268.6 325.1,256.6 C335.0,244.6 348.8,231.9 359.0,222.7 C369.2,213.5 379.4,203.7 386.5,201.6Z"/><path d="M579.0,231.2 C582.5,225.5 591.6,224.5 600.1,222.7 C608.6,220.9 614.9,220.6 629.7,220.6 C644.5,220.6 674.9,219.5 689.0,222.7 C703.1,225.9 707.2,229.7 714.3,239.6 C721.3,249.5 728.1,265.1 731.3,282.0 C734.5,298.9 735.5,323.6 733.4,341.2 C731.3,358.8 725.3,376.1 718.6,387.7 C711.9,399.3 702.4,406.8 693.2,411.0 C684.0,415.2 673.5,416.3 663.6,413.1 C653.7,409.9 643.2,402.6 634.0,392.0 C624.8,381.4 616.4,365.1 608.6,349.6 C600.8,334.1 592.3,314.4 587.4,298.9 C582.5,283.4 580.4,267.9 579.0,256.6 C577.6,245.3 575.5,236.8 579.0,231.2Z"/><path d="M253.0,364.3 C247.8,362.6 240.0,359.5 227.0,366.9 C214.0,374.2 191.1,392.8 175.1,408.4 C159.1,424.0 137.9,447.3 131.0,460.3 C124.1,473.3 126.2,482.4 133.6,486.3 C140.9,490.2 162.1,489.8 175.1,483.7 C188.1,477.6 200.2,462.4 211.5,449.9 C222.8,437.3 234.8,420.5 242.6,408.4 C250.4,396.3 256.5,384.6 258.2,377.3 C259.9,370.0 258.2,366.0 253.0,364.3Z"/><path d="M452.0,315.8 C462.1,313.2 483.5,334.4 490.1,341.2 C496.7,348.0 492.4,345.3 491.8,356.5 C491.2,367.7 490.9,391.1 486.6,408.4 C482.3,425.7 474.5,444.7 465.8,460.3 C457.1,475.9 443.4,493.1 434.7,501.8 C426.0,510.5 419.1,514.8 413.9,512.2 C408.7,509.6 405.2,499.3 403.5,486.3 C401.8,473.3 400.9,451.7 403.5,434.4 C406.1,417.1 414.8,395.5 419.1,382.5 C423.4,369.5 424.0,367.6 429.5,356.5 C435.0,345.4 441.9,318.4 452.0,315.8Z"/><path d="M276.3,473.3 C282.8,469.4 301.0,470.7 315.3,473.3 C329.6,475.9 346.4,480.7 362.0,488.9 C377.6,497.1 397.4,510.1 408.7,522.6 C419.9,535.1 425.6,548.5 429.5,564.1 C433.4,579.7 433.8,597.8 432.1,616.0 C430.4,634.2 426.5,656.8 419.1,673.2 C411.8,689.7 398.4,705.2 388.0,714.7 C377.6,724.2 366.3,729.4 356.8,730.3 C347.3,731.2 339.5,730.3 330.9,719.9 C322.2,709.5 311.8,687.0 304.9,668.0 C298.0,649.0 293.2,627.3 289.3,605.7 C285.4,584.1 283.7,556.4 281.5,538.2 C279.3,520.0 277.2,507.5 276.3,496.7 C275.4,485.9 269.8,477.2 276.3,473.3Z"/><path d="M556.7,421.4 C562.3,416.6 586.5,414.0 593.0,416.2 C599.5,418.4 598.2,429.6 595.6,434.4 C593.0,439.2 581.3,437.0 577.4,444.8 C573.5,452.6 577.0,471.6 572.2,481.1 C567.5,490.6 556.2,489.3 548.9,501.9 C541.5,514.4 532.9,547.8 528.1,556.4 C523.3,565.0 520.3,561.2 520.3,553.8 C520.3,546.4 523.3,526.1 528.1,512.2 C532.9,498.4 543.7,481.9 548.9,470.7 C554.1,459.5 558.0,453.0 559.3,444.8 C560.6,436.6 551.1,426.2 556.7,421.4Z"/><path d="M733.2,434.4 C743.2,433.5 756.1,440.4 761.7,447.3 C767.3,454.2 769.5,465.1 766.9,475.9 C764.3,486.7 754.8,502.3 746.1,512.2 C737.5,522.2 723.6,533.0 715.0,535.6 C706.4,538.2 698.1,536.0 694.2,527.8 C690.3,519.6 690.3,498.9 691.6,486.3 C692.9,473.8 695.1,461.1 702.0,452.5 C708.9,443.9 723.2,435.3 733.2,434.4Z"/><path d="M650.1,546.0 C654.0,546.0 661.4,554.1 663.1,564.1 C664.8,574.1 664.8,591.0 660.5,605.7 C656.2,620.4 647.1,639.4 637.1,652.4 C627.1,665.4 613.8,675.7 600.8,683.5 C587.8,691.3 566.6,698.2 559.3,699.1 C551.9,700.0 552.4,697.4 556.7,688.7 C561.0,680.1 575.2,661.9 585.2,647.2 C595.2,632.5 607.3,614.4 616.4,600.5 C625.5,586.6 634.1,573.2 639.7,564.1 C645.3,555.0 646.2,546.0 650.1,546.0Z"/></g><circle cx="292" cy="147" r="35.5" fill="url(#ballR)"/><circle cx="655" cy="192" r="35.5" fill="url(#ballR)"/><circle cx="238" cy="277" r="35.5" fill="url(#ballR)"/><circle cx="468" cy="277" r="35.5" fill="url(#ballR)"/><circle cx="125.8" cy="391" r="35.5" fill="url(#ballR)"/><circle cx="581" cy="525" r="35.5" fill="url(#ballR)"/><circle cx="785" cy="525" r="35.5" fill="url(#ballR)"/><circle cx="153.7" cy="568" r="35.5" fill="url(#ballR)"/><circle cx="468.2" cy="623" r="35.5" fill="url(#ballR)"/><circle cx="627" cy="711" r="35.5" fill="url(#ballR)"/></g>
<g transform="translate(2630,490) scale(0.28050)" filter="url(#soft)"><circle cx="459" cy="443.5" r="373" fill="#fff" stroke="#333" stroke-width="4" stroke-dasharray="22 6"/><g fill="#757a82"><path d="M428.8,146.6 C431.6,143.4 441.1,138.5 452.0,136.0 C462.9,133.5 476.8,132.2 494.4,131.8 C512.0,131.5 544.8,131.8 557.8,133.9 C570.8,136.0 570.5,138.9 572.6,144.5 C574.7,150.1 575.1,158.9 570.5,167.7 C565.9,176.5 555.7,188.5 545.1,197.3 C534.5,206.1 519.0,215.3 507.0,220.6 C495.0,225.9 482.4,229.4 473.2,229.1 C464.0,228.8 456.6,225.2 452.0,218.5 C447.4,211.8 446.4,197.4 445.7,188.9 C445.0,180.4 449.6,173.3 447.8,167.7 C446.0,162.0 438.3,158.5 435.1,155.0 C431.9,151.5 426.0,149.8 428.8,146.6Z"/><path d="M375.9,201.6 C384.3,199.5 393.1,205.9 397.0,214.3 C400.9,222.8 400.6,238.2 399.2,252.3 C397.8,266.4 393.9,284.1 388.6,298.9 C383.3,313.7 375.2,330.3 367.4,341.2 C359.6,352.1 349.8,361.6 342.0,364.4 C334.2,367.2 328.3,364.1 320.9,358.1 C313.5,352.1 302.2,338.4 297.6,328.5 C293.0,318.6 290.9,309.5 293.4,298.9 C295.9,288.3 303.6,277.0 312.4,265.0 C321.2,253.0 335.7,237.6 346.3,227.0 C356.9,216.4 367.4,203.7 375.9,201.6Z"/><path d="M572.6,233.3 C575.1,226.2 583.6,224.8 591.7,222.7 C599.8,220.6 605.8,220.6 621.3,220.6 C636.8,220.6 671.3,218.8 684.7,222.7 C698.1,226.6 697.4,232.6 701.6,243.9 C705.8,255.2 709.4,273.5 710.1,290.4 C710.8,307.3 709.4,329.9 705.9,345.4 C702.4,360.9 695.9,375.4 688.9,383.5 C681.9,391.6 672.0,394.1 663.6,394.1 C655.2,394.1 646.7,390.9 638.2,383.5 C629.7,376.1 620.9,363.0 612.8,349.6 C604.7,336.2 595.5,317.2 589.5,303.1 C583.5,289.0 579.6,276.6 576.8,265.0 C574.0,253.4 570.1,240.4 572.6,233.3Z"/><path d="M250.4,366.9 C255.2,369.5 260.4,378.1 260.8,387.6 C261.2,397.1 257.8,412.8 253.0,424.0 C248.2,435.2 239.5,450.8 232.2,455.1 C224.8,459.4 214.5,455.1 208.9,449.9 C203.3,444.7 198.1,433.5 198.5,424.0 C198.9,414.5 205.9,401.4 211.5,392.8 C217.1,384.2 225.7,376.4 232.2,372.1 C238.7,367.8 245.6,364.3 250.4,366.9Z"/><path d="M452.0,317.9 C460.5,315.8 474.6,320.4 481.7,328.5 C488.8,336.6 493.6,353.3 494.4,366.6 C495.2,379.9 492.2,391.9 486.6,408.4 C481.0,424.9 470.1,449.1 460.6,465.5 C451.1,481.9 438.1,499.2 429.5,507.0 C420.9,514.8 413.5,516.5 408.7,512.2 C403.9,507.9 400.9,498.4 400.9,481.1 C400.9,463.8 404.8,429.2 408.7,408.4 C412.6,387.6 420.6,367.7 424.3,356.5 C428.0,345.3 426.3,347.6 430.9,341.2 C435.5,334.8 443.5,320.0 452.0,317.9Z"/><path d="M227.0,496.7 C231.8,490.6 246.9,494.1 258.2,496.7 C269.4,499.3 282.4,504.4 294.5,512.2 C306.6,520.0 320.9,532.1 330.9,543.4 C340.8,554.6 349.4,567.6 354.2,579.7 C358.9,591.8 360.7,602.1 359.4,616.0 C358.1,629.9 352.9,648.9 346.4,662.8 C339.9,676.6 330.0,691.3 320.5,699.1 C311.0,706.9 298.4,709.5 289.3,709.5 C280.2,709.5 272.5,707.8 266.0,699.1 C259.5,690.5 255.2,675.8 250.4,657.6 C245.6,639.4 240.9,610.9 237.4,590.1 C233.9,569.3 231.3,548.6 229.6,533.0 C227.9,517.4 222.2,502.8 227.0,496.7Z"/><path d="M556.7,424.0 C561.9,419.2 582.2,414.5 587.8,416.2 C593.4,417.9 592.1,429.6 590.4,434.4 C588.7,439.2 580.4,437.4 577.4,444.8 C574.4,452.2 577.0,469.0 572.2,478.5 C567.5,488.0 556.2,489.3 548.9,501.9 C541.5,514.4 533.3,545.6 528.1,553.8 C522.9,562.0 517.7,558.1 517.7,551.2 C517.7,544.3 522.9,525.6 528.1,512.2 C533.3,498.8 544.1,481.9 548.9,470.7 C553.7,459.5 555.4,452.6 556.7,444.8 C558.0,437.0 551.5,428.8 556.7,424.0Z"/><path d="M730.6,434.4 C740.1,434.0 753.5,440.4 759.1,447.3 C764.7,454.2 767.3,464.2 764.3,475.9 C761.3,487.6 750.5,507.9 741.0,517.4 C731.5,526.9 715.9,533.0 707.2,533.0 C698.5,533.0 692.5,526.0 689.0,517.4 C685.5,508.8 684.2,492.4 686.4,481.1 C688.6,469.9 694.6,457.7 702.0,449.9 C709.4,442.1 721.1,434.8 730.6,434.4Z"/><path d="M624.2,587.5 C628.5,587.5 632.3,606.0 631.9,616.0 C631.5,626.0 627.6,636.8 621.6,647.2 C615.6,657.6 605.6,669.2 595.6,678.3 C585.6,687.4 568.0,699.5 561.9,701.7 C555.8,703.9 556.3,698.6 559.3,691.3 C562.3,683.9 572.2,670.1 580.0,657.6 C587.8,645.1 598.6,627.7 606.0,616.0 C613.4,604.3 619.9,587.5 624.2,587.5Z"/></g><circle cx="292.7" cy="148" r="35.5" fill="url(#ballR)"/><circle cx="651.5" cy="194" r="35.5" fill="url(#ballR)"/><circle cx="230" cy="275.3" r="35.5" fill="url(#ballR)"/><circle cx="467" cy="282.5" r="35.5" fill="url(#ballR)"/><circle cx="127.5" cy="392.5" r="35.5" fill="url(#ballR)"/><circle cx="577.7" cy="525" r="35.5" fill="url(#ballR)"/><circle cx="780" cy="525" r="35.5" fill="url(#ballR)"/><circle cx="154" cy="569.5" r="35.5" fill="url(#ballR)"/><circle cx="395.5" cy="603" r="35.5" fill="url(#ballR)"/><circle cx="623.8" cy="712" r="35.5" fill="url(#ballR)"/><circle cx="767" cy="357" r="35.5" fill="url(#ballG)"/><circle cx="340.8" cy="470.5" r="35.5" fill="url(#ballG)"/><circle cx="453" cy="712" r="35.5" fill="url(#ballG)"/></g>
<rect x="633" y="985" width="3" height="3" fill="#e08a3a"/>
<rect x="2135" y="993" width="3" height="2.5" fill="#e08a3a"/></svg></body></html>
